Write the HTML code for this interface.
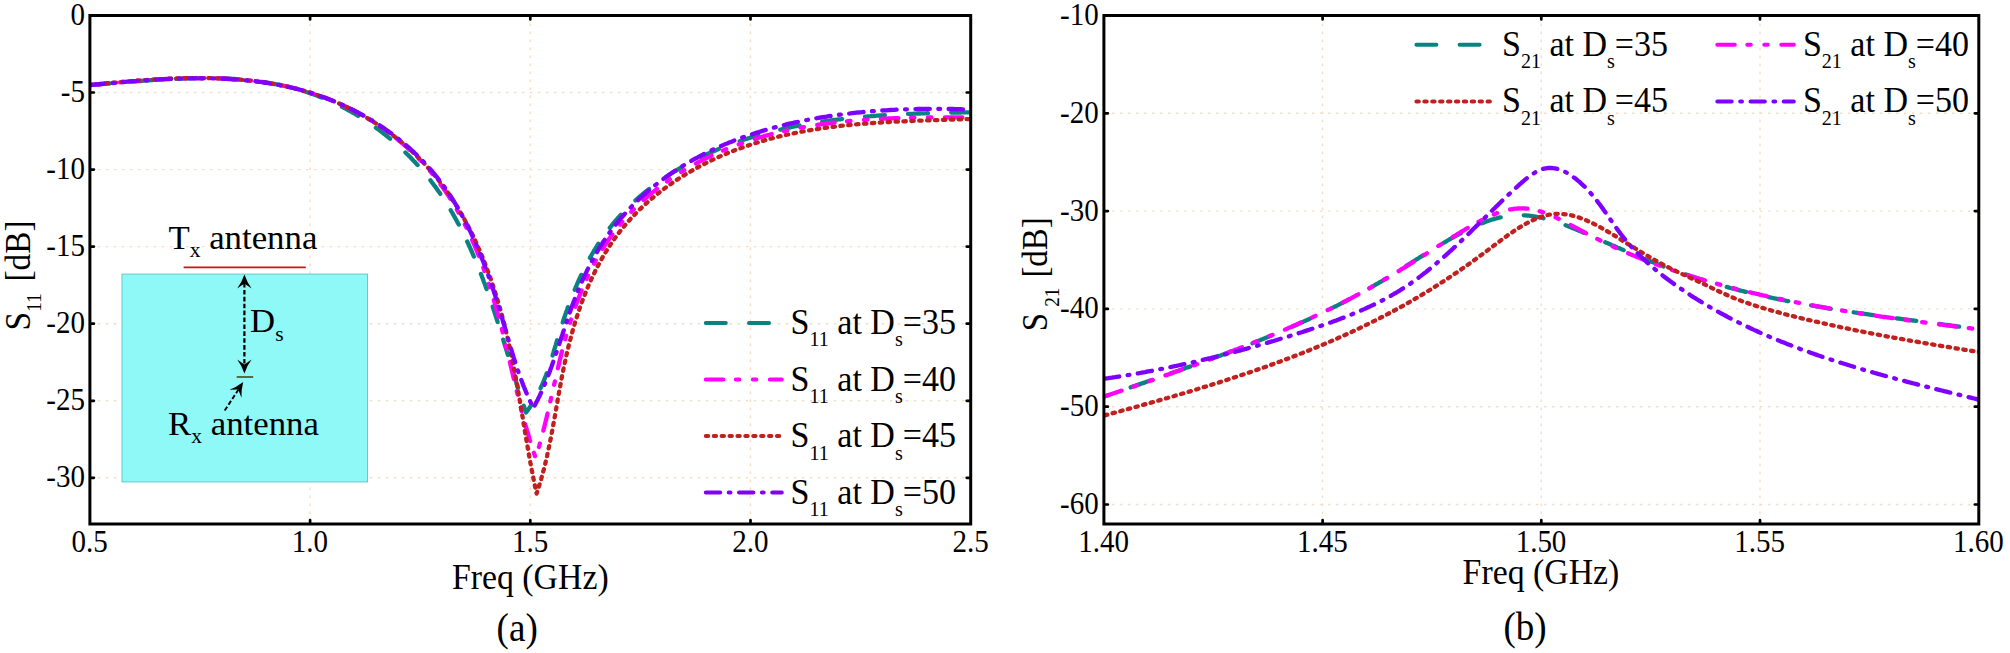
<!DOCTYPE html>
<html lang="en"><head><meta charset="utf-8"><title>S11 and S21 versus frequency</title>
<style>html,body{margin:0;padding:0;background:#fff}body{width:2010px;height:653px;overflow:hidden}svg{display:block}</style>
</head><body>
<svg width="2010" height="653" viewBox="0 0 2010 653" font-family='"Liberation Serif", "Times New Roman", serif' fill="#000">
<rect width="2010" height="653" fill="#fff"/>
<path d="M310.1,15.5 V524.0 M530.3,15.5 V524.0 M750.5,15.5 V524.0 M89.9,92.5 H970.7 M89.9,169.6 H970.7 M89.9,246.6 H970.7 M89.9,323.7 H970.7 M89.9,400.8 H970.7 M89.9,477.8 H970.7" stroke="#f5dcc5" stroke-width="1.4" stroke-dasharray="2.4 5.6" fill="none"/>
<clipPath id="cL"><rect x="89.9" y="15.5" width="880.8000000000001" height="508.5"/></clipPath>
<rect x="122" y="274.1" width="245.5" height="207.8" fill="#8ff9f8" stroke="#5fc9cc" stroke-width="1"/>
<g clip-path="url(#cL)" fill="none" stroke-width="4.3" stroke-linecap="round" stroke-linejoin="round">
<path d="M90.0,85.0 L91.5,84.9 L93.0,84.8 L94.5,84.7 L96.0,84.5 L97.5,84.4 L99.0,84.3 L100.4,84.2 L101.9,84.1 L103.4,83.9 L104.9,83.8 L106.4,83.7 L107.9,83.6 L109.4,83.5 L109.9,83.4 M133.0,81.5 L134.5,81.4 L136.0,81.3 L137.5,81.2 L138.9,81.1 L140.4,81.0 L141.9,80.9 L143.4,80.7 L144.9,80.6 L146.4,80.5 L147.9,80.4 L149.4,80.3 L150.9,80.2 L152.4,80.1 L152.9,80.1 M176.0,78.8 L177.5,78.7 L179.0,78.6 L180.5,78.6 L182.0,78.5 L183.5,78.5 L185.0,78.4 L186.5,78.4 L188.0,78.3 L189.5,78.3 L191.0,78.3 L192.5,78.2 L194.0,78.2 L195.5,78.2 L196.0,78.2 M219.2,78.3 L220.7,78.4 L222.2,78.4 L223.7,78.5 L225.2,78.5 L226.7,78.6 L228.2,78.7 L229.7,78.7 L231.2,78.8 L232.7,78.9 L234.2,79.0 L235.7,79.1 L237.2,79.2 L238.7,79.3 L239.2,79.4 M262.1,81.9 L263.6,82.1 L265.1,82.3 L266.6,82.5 L268.0,82.8 L269.5,83.0 L271.0,83.3 L272.4,83.5 L273.9,83.8 L275.3,84.1 L276.8,84.4 L278.2,84.7 L279.7,84.9 L281.2,85.3 L281.6,85.4 M303.6,91.1 L305.0,91.5 L306.4,92.0 L307.8,92.4 L309.2,92.9 L310.6,93.4 L311.9,93.9 L313.3,94.3 L314.7,94.8 L316.0,95.3 L317.4,95.8 L318.7,96.4 L320.1,96.9 L321.4,97.4 L321.9,97.6 M341.9,106.8 L343.2,107.4 L344.4,108.1 L345.6,108.7 L346.9,109.4 L348.1,110.1 L349.3,110.8 L350.6,111.4 L351.8,112.1 L353.0,112.8 L354.2,113.5 L355.4,114.2 L356.6,114.9 L357.8,115.7 L358.2,115.9 M375.9,127.7 L377.0,128.5 L378.1,129.3 L379.2,130.1 L380.3,130.9 L381.4,131.7 L382.4,132.6 L383.5,133.4 L384.6,134.2 L385.6,135.1 L386.7,135.9 L387.7,136.8 L388.8,137.6 L389.8,138.5 L390.1,138.7 M405.4,152.5 L406.4,153.4 L407.3,154.3 L408.3,155.2 L409.2,156.2 L410.1,157.1 L411.0,158.0 L411.9,159.0 L412.8,159.9 L413.7,160.9 L414.6,161.8 L415.5,162.8 L416.4,163.7 L417.3,164.7 L417.6,165.0 M430.4,180.2 L431.1,181.2 L431.9,182.3 L432.7,183.3 L433.4,184.3 L434.2,185.3 L435.0,186.3 L435.7,187.3 L436.4,188.4 L437.2,189.4 L437.9,190.4 L438.6,191.5 L439.4,192.5 L440.1,193.5 L440.3,193.9 M450.7,210.2 L451.3,211.3 L452.0,212.4 L452.6,213.4 L453.2,214.5 L453.8,215.6 L454.4,216.7 L455.0,217.7 L455.6,218.8 L456.2,219.9 L456.8,221.0 L457.4,222.1 L458.0,223.2 L458.6,224.3 L458.8,224.6 M467.2,241.6 L467.8,242.7 L468.3,243.8 L468.8,245.0 L469.3,246.1 L469.8,247.2 L470.3,248.3 L470.8,249.4 L471.3,250.5 L471.8,251.6 L472.3,252.8 L472.8,253.9 L473.2,255.0 L473.7,256.1 L473.9,256.5 M480.9,273.9 L481.4,275.0 L481.8,276.1 L482.2,277.3 L482.7,278.4 L483.1,279.5 L483.5,280.7 L483.9,281.8 L484.4,282.9 L484.8,284.1 L485.2,285.2 L485.6,286.4 L486.0,287.5 L486.4,288.6 L486.6,289.0 M492.7,306.6 L493.0,307.8 L493.4,308.9 L493.8,310.1 L494.2,311.2 L494.5,312.3 L494.9,313.5 L495.3,314.6 L495.7,315.8 L496.0,316.9 L496.4,318.1 L496.8,319.2 L497.1,320.4 L497.5,321.5 L497.6,321.9 M503.2,339.6 L503.5,340.8 L503.9,341.9 L504.3,343.1 L504.6,344.2 L505.0,345.4 L505.3,346.5 L505.7,347.7 L506.0,348.8 L506.4,349.9 L506.7,351.1 L507.1,352.2 L507.4,353.4 L507.8,354.5 L507.9,354.9 M513.3,372.7 L513.7,373.8 L514.0,375.0 L514.4,376.1 L514.7,377.3 L515.1,378.4 L515.4,379.6 L515.8,380.7 L516.1,381.9 L516.5,383.0 L516.8,384.2 L517.2,385.3 L517.6,386.5 L517.9,387.6 L518.0,388.0 M523.7,405.7 L524.1,406.8 L524.5,408.0 L524.9,409.1 L525.2,410.3 L525.6,411.4 L526.0,412.5 L526.8,411.4 L527.6,410.4 L528.3,409.4 L529.1,408.4 L529.8,407.3 L530.5,406.3 L531.2,405.3 L531.4,404.9 M540.6,388.2 L541.1,387.0 L541.6,385.9 L542.1,384.8 L542.6,383.7 L543.1,382.6 L543.5,381.4 L544.0,380.3 L544.5,379.2 L544.9,378.1 L545.3,376.9 L545.8,375.8 L546.2,374.7 L546.6,373.5 L546.7,373.2 M552.6,355.5 L552.9,354.3 L553.3,353.2 L553.6,352.0 L553.9,350.9 L554.3,349.7 L554.6,348.6 L555.0,347.4 L555.3,346.3 L555.7,345.1 L556.0,344.0 L556.3,342.8 L556.7,341.7 L557.0,340.5 L557.1,340.2 M562.7,322.4 L563.1,321.3 L563.4,320.1 L563.8,319.0 L564.2,317.8 L564.6,316.7 L565.0,315.6 L565.4,314.4 L565.8,313.3 L566.2,312.1 L566.6,311.0 L567.0,309.9 L567.4,308.7 L567.8,307.6 L567.9,307.2 M574.7,289.7 L575.2,288.6 L575.6,287.5 L576.1,286.4 L576.6,285.3 L577.1,284.1 L577.6,283.0 L578.0,281.9 L578.5,280.8 L579.0,279.7 L579.5,278.6 L580.1,277.5 L580.6,276.3 L581.1,275.2 L581.3,274.9 M589.9,257.9 L590.5,256.8 L591.1,255.8 L591.7,254.7 L592.4,253.6 L593.0,252.5 L593.6,251.5 L594.2,250.4 L594.9,249.3 L595.5,248.3 L596.2,247.2 L596.9,246.1 L597.5,245.1 L598.2,244.0 L598.4,243.7 M609.8,227.8 L610.6,226.8 L611.4,225.8 L612.2,224.8 L613.0,223.8 L613.8,222.8 L614.7,221.8 L615.5,220.8 L616.3,219.8 L617.2,218.9 L618.0,217.9 L618.9,216.9 L619.8,216.0 L620.7,215.0 L621.0,214.7 M635.4,200.4 L636.4,199.5 L637.4,198.7 L638.4,197.8 L639.4,196.9 L640.5,196.0 L641.5,195.2 L642.5,194.3 L643.5,193.5 L644.6,192.6 L645.6,191.8 L646.7,190.9 L647.7,190.1 L648.8,189.2 L649.1,189.0 M666.3,176.7 L667.5,175.9 L668.6,175.2 L669.8,174.4 L670.9,173.7 L672.1,173.0 L673.3,172.2 L674.5,171.5 L675.7,170.8 L676.9,170.1 L678.1,169.3 L679.3,168.6 L680.5,167.9 L681.7,167.2 L682.1,167.0 M701.4,156.9 L702.6,156.2 L703.9,155.6 L705.2,155.0 L706.5,154.4 L707.8,153.8 L709.1,153.3 L710.4,152.7 L711.7,152.1 L713.0,151.5 L714.3,150.9 L715.7,150.4 L717.0,149.8 L718.3,149.3 L718.8,149.1 M739.7,141.2 L741.0,140.7 L742.4,140.2 L743.8,139.8 L745.2,139.3 L746.6,138.9 L748.0,138.4 L749.4,138.0 L750.7,137.6 L752.1,137.1 L753.5,136.7 L754.9,136.3 L756.3,135.9 L757.8,135.5 L758.2,135.3 M780.2,129.6 L781.7,129.3 L783.1,128.9 L784.6,128.6 L786.0,128.3 L787.5,128.0 L788.9,127.6 L790.4,127.3 L791.8,127.0 L793.3,126.7 L794.7,126.4 L796.2,126.2 L797.6,125.9 L799.1,125.6 L799.6,125.5 M822.2,121.6 L823.7,121.4 L825.2,121.2 L826.7,121.0 L828.1,120.8 L829.6,120.6 L831.1,120.4 L832.6,120.2 L834.1,120.0 L835.5,119.8 L837.0,119.6 L838.5,119.4 L840.0,119.3 L841.5,119.1 L842.0,119.0 M865.0,116.7 L866.5,116.6 L867.9,116.4 L869.4,116.3 L870.9,116.2 L872.4,116.1 L873.9,116.0 L875.4,115.9 L876.9,115.7 L878.4,115.6 L879.9,115.5 L881.4,115.4 L882.9,115.3 L884.4,115.2 L884.9,115.2 M908.0,113.9 L909.5,113.9 L911.0,113.8 L912.5,113.8 L914.0,113.7 L915.5,113.6 L917.0,113.6 L918.5,113.5 L920.0,113.5 L921.5,113.4 L923.0,113.4 L924.5,113.3 L926.0,113.3 L927.5,113.2 L928.0,113.2 M951.2,112.6 L952.7,112.6 L954.2,112.6 L955.7,112.5 L957.2,112.5 L958.7,112.5 L960.2,112.5 L961.7,112.4 L963.2,112.4 L964.7,112.4 L966.2,112.4 L967.7,112.3 L969.2,112.3 L970.0,112.3" stroke="#0a8282"/>
<path d="M90.0,85.0 L92.2,84.8 L94.4,84.6 L96.5,84.4 L98.7,84.2 L100.9,84.0 L103.1,83.8 L105.3,83.6 L107.5,83.4 L109.7,83.2 L112.0,83.0 L114.2,82.8 L116.4,82.6 L118.6,82.4 L120.9,82.2 L123.1,82.0 L125.3,81.8 L127.6,81.6 L129.8,81.4 L132.1,81.2 L134.3,81.1 L136.6,80.9 L138.8,80.7 L141.1,80.6 L143.3,80.4 L145.6,80.2 L147.9,80.1 L150.1,79.9 L152.4,79.8 L154.7,79.6 L156.9,79.5 L159.2,79.4 L161.5,79.2 L163.8,79.1 L166.1,79.0 L168.3,78.9 L170.6,78.8 L172.9,78.7 L175.2,78.6 L177.5,78.5 L179.8,78.4 L182.1,78.4 L184.3,78.3 L186.6,78.3 L188.9,78.2 L191.2,78.2 L193.5,78.1 L195.8,78.1 L198.1,78.1 L200.4,78.1 L202.7,78.1 L205.0,78.1 L207.2,78.1 L209.5,78.2 L211.8,78.2 L214.1,78.3 L216.4,78.3 L218.7,78.4 L221.0,78.5 L223.2,78.6 L225.5,78.7 L227.8,78.8 L230.1,78.9 L232.4,79.1 L234.6,79.2 L236.9,79.4 L239.2,79.5 L241.5,79.7 L243.7,79.9 L246.0,80.1 L248.2,80.4 L250.5,80.6 L252.8,80.8 L255.0,81.1 L257.3,81.4 L259.5,81.7 L261.8,82.0 L264.0,82.3 L266.3,82.6 L268.5,83.0 L270.7,83.3 L273.0,83.7 L275.2,84.1 L277.4,84.5 L279.6,85.0 L281.8,85.4 L284.1,85.8 L286.3,86.3 L288.5,86.8 L290.7,87.3 L292.9,87.8 L295.0,88.4 L297.2,88.9 L299.4,89.5 L301.6,90.1 L303.7,90.7 L305.9,91.3 L308.1,92.0 L310.2,92.6 L312.4,93.3 L314.5,94.0 L316.7,94.7 L318.8,95.5 L320.9,96.2 L323.0,97.0 L325.1,97.8 L327.2,98.6 L329.3,99.4 L331.4,100.3 L333.5,101.1 L335.6,102.0 L337.7,102.9 L339.7,103.8 L341.8,104.8 L343.8,105.7 L345.9,106.7 L347.9,107.7 L349.9,108.7 L351.9,109.7 L353.9,110.7 L355.9,111.8 L357.9,112.8 L359.9,113.9 L361.9,115.0 L363.8,116.2 L365.8,117.3 L367.7,118.5 L369.6,119.6 L371.6,120.8 L373.5,122.0 L375.4,123.2 L377.2,124.5 L379.1,125.7 L381.0,127.0 L382.8,128.3 L384.7,129.6 L386.5,130.9 L388.3,132.2 L390.1,133.5 L391.9,134.9 L393.7,136.3 L395.4,137.7 L397.2,139.1 L398.9,140.5 L400.7,141.9 L402.4,143.4 L404.1,144.8 L405.8,146.3 L407.4,147.8 L409.1,149.3 L410.8,150.8 L412.4,152.4 L414.0,153.9 L415.6,155.5 L417.2,157.1 L418.8,158.7 L420.3,160.3 L421.9,161.9 L423.4,163.5 L424.9,165.2 L426.4,166.9 L427.9,168.5 L429.3,170.2 L430.8,171.9 L432.2,173.6 L433.6,175.4 L435.0,177.1 L436.4,178.9 L437.8,180.6 L439.1,182.4 L440.4,184.2 L441.7,186.0 L443.0,187.8 L444.3,189.7 L445.6,191.5 L446.8,193.4 L448.1,195.2 L449.3,197.1 L450.5,199.0 L451.7,200.9 L452.9,202.8 L454.0,204.7 L455.2,206.6 L456.3,208.6 L457.4,210.5 L458.5,212.5 L459.6,214.4 L460.7,216.4 L461.7,218.4 L462.8,220.4 L463.8,222.4 L464.8,224.4 L465.8,226.4 L466.8,228.5 L467.8,230.5 L468.8,232.5 L469.7,234.6 L470.7,236.6 L471.6,238.7 L472.5,240.8 L473.4,242.9 L474.3,245.0 L475.2,247.0 L476.1,249.1 L477.0,251.3 L477.8,253.4 L478.7,255.5 L479.5,257.6 L480.3,259.7 L481.1,261.9 L481.9,264.0 L482.7,266.2 L483.5,268.3 L484.3,270.5 L485.0,272.6 L485.8,274.8 L486.5,276.9 L487.2,279.1 L488.0,281.3 L488.7,283.5 L489.4,285.6 L490.1,287.8 L490.8,290.0 L491.5,292.2 L492.1,294.4 L492.8,296.6 L493.5,298.8 L494.1,301.0 L494.8,303.2 L495.4,305.4 L496.0,307.6 L496.6,309.8 L497.3,312.0 L497.9,314.2 L498.5,316.4 L499.1,318.6 L499.7,320.8 L500.2,323.0 L500.8,325.2 L501.4,327.4 L502.0,329.6 L502.5,331.8 L503.1,334.0 L503.6,336.2 L504.2,338.4 L504.7,340.6 L505.3,342.8 L505.8,345.0 L506.3,347.2 L506.9,349.4 L507.4,351.6 L507.9,353.8 L508.5,356.0 L509.0,358.2 L509.5,360.4 L510.0,362.6 L510.5,364.8 L511.0,367.0 L511.6,369.2 L512.1,371.4 L512.6,373.6 L513.1,375.8 L513.6,377.9 L514.2,380.1 L514.7,382.3 L515.2,384.5 L515.7,386.7 L516.2,388.9 L516.8,391.1 L517.3,393.2 L517.8,395.4 L518.4,397.6 L518.9,399.8 L519.4,402.0 L520.0,404.1 L520.5,406.3 L521.1,408.5 L521.6,410.7 L522.2,412.8 L522.8,415.0 L523.3,417.2 L523.9,419.3 L524.5,421.5 L525.1,423.7 L525.7,425.8 L526.3,428.0 L526.9,430.1 L527.5,432.3 L528.2,434.4 L528.8,436.6 L529.4,438.7 L530.1,440.9 L530.7,443.0 L531.4,445.2 L532.1,447.3 L532.8,449.5 L533.5,451.6 L534.2,453.7 L534.9,455.9 L535.6,458.0 L536.2,456.0 L536.8,454.1 L537.4,452.1 L538.0,450.1 L538.6,448.1 L539.2,446.1 L539.7,444.1 L540.3,442.1 L540.9,440.1 L541.4,438.1 L541.9,436.1 L542.5,434.1 L543.0,432.1 L543.5,430.0 L544.0,428.0 L544.5,426.0 L545.0,424.0 L545.5,421.9 L546.0,419.9 L546.5,417.9 L547.0,415.8 L547.5,413.8 L548.0,411.7 L548.4,409.7 L548.9,407.7 L549.4,405.6 L549.8,403.6 L550.3,401.5 L550.8,399.4 L551.2,397.4 L551.7,395.3 L552.2,393.3 L552.6,391.2 L553.1,389.2 L553.6,387.1 L554.0,385.0 L554.5,383.0 L555.0,380.9 L555.4,378.8 L555.9,376.8 L556.4,374.7 L556.8,372.7 L557.3,370.6 L557.8,368.5 L558.3,366.5 L558.8,364.4 L559.3,362.3 L559.8,360.3 L560.3,358.2 L560.8,356.1 L561.3,354.1 L561.8,352.0 L562.3,350.0 L562.9,347.9 L563.4,345.8 L563.9,343.8 L564.5,341.7 L565.1,339.7 L565.6,337.6 L566.2,335.6 L566.8,333.5 L567.4,331.5 L568.0,329.4 L568.6,327.4 L569.2,325.4 L569.8,323.3 L570.5,321.3 L571.1,319.2 L571.8,317.2 L572.4,315.2 L573.1,313.2 L573.8,311.2 L574.5,309.1 L575.2,307.1 L575.9,305.1 L576.7,303.1 L577.4,301.1 L578.2,299.1 L578.9,297.2 L579.7,295.2 L580.5,293.2 L581.3,291.2 L582.1,289.3 L582.9,287.3 L583.7,285.4 L584.6,283.4 L585.4,281.5 L586.3,279.6 L587.2,277.7 L588.1,275.7 L589.0,273.8 L589.9,271.9 L590.8,270.1 L591.8,268.2 L592.7,266.3 L593.7,264.4 L594.7,262.6 L595.7,260.7 L596.7,258.9 L597.7,257.1 L598.8,255.3 L599.8,253.5 L600.9,251.7 L602.0,249.9 L603.1,248.1 L604.2,246.3 L605.3,244.6 L606.5,242.9 L607.6,241.1 L608.8,239.4 L610.0,237.7 L611.2,236.0 L612.4,234.3 L613.6,232.6 L614.9,231.0 L616.2,229.3 L617.4,227.7 L618.7,226.1 L620.1,224.5 L621.4,222.9 L622.7,221.3 L624.1,219.8 L625.5,218.2 L626.9,216.7 L628.3,215.1 L629.7,213.6 L631.1,212.1 L632.6,210.6 L634.0,209.1 L635.5,207.7 L637.0,206.2 L638.5,204.8 L640.0,203.4 L641.5,201.9 L643.1,200.5 L644.6,199.1 L646.2,197.8 L647.8,196.4 L649.3,195.1 L650.9,193.7 L652.6,192.4 L654.2,191.1 L655.8,189.8 L657.5,188.5 L659.1,187.2 L660.8,185.9 L662.5,184.7 L664.2,183.5 L665.9,182.2 L667.6,181.0 L669.3,179.8 L671.0,178.6 L672.8,177.5 L674.5,176.3 L676.3,175.2 L678.1,174.0 L679.9,172.9 L681.6,171.8 L683.4,170.7 L685.2,169.6 L687.1,168.5 L688.9,167.5 L690.7,166.4 L692.6,165.4 L694.4,164.4 L696.3,163.4 L698.1,162.4 L700.0,161.4 L701.9,160.4 L703.8,159.4 L705.7,158.5 L707.6,157.6 L709.5,156.6 L711.4,155.7 L713.3,154.8 L715.2,153.9 L717.2,153.1 L719.1,152.2 L721.1,151.4 L723.0,150.5 L725.0,149.7 L726.9,148.9 L728.9,148.1 L730.9,147.3 L732.8,146.6 L734.8,145.8 L736.8,145.0 L738.8,144.3 L740.8,143.6 L742.8,142.9 L744.8,142.2 L746.8,141.5 L748.8,140.8 L750.8,140.2 L752.8,139.5 L754.8,138.9 L756.8,138.3 L758.9,137.7 L760.9,137.1 L762.9,136.5 L765.0,135.9 L767.0,135.3 L769.0,134.8 L771.1,134.2 L773.1,133.7 L775.2,133.2 L777.2,132.7 L779.3,132.2 L781.3,131.7 L783.4,131.2 L785.4,130.8 L787.5,130.3 L789.6,129.9 L791.6,129.4 L793.7,129.0 L795.8,128.6 L797.8,128.2 L799.9,127.8 L802.0,127.4 L804.1,127.1 L806.1,126.7 L808.2,126.3 L810.3,126.0 L812.4,125.6 L814.5,125.3 L816.6,125.0 L818.6,124.7 L820.7,124.4 L822.8,124.1 L824.9,123.8 L827.0,123.5 L829.1,123.3 L831.2,123.0 L833.3,122.7 L835.4,122.5 L837.5,122.3 L839.6,122.0 L841.7,121.8 L843.8,121.6 L845.9,121.4 L848.0,121.2 L850.1,121.0 L852.2,120.8 L854.4,120.6 L856.5,120.4 L858.6,120.3 L860.7,120.1 L862.8,119.9 L864.9,119.8 L867.0,119.6 L869.1,119.5 L871.2,119.4 L873.4,119.2 L875.5,119.1 L877.6,119.0 L879.7,118.9 L881.8,118.8 L883.9,118.7 L886.0,118.6 L888.2,118.5 L890.3,118.4 L892.4,118.3 L894.5,118.2 L896.6,118.2 L898.7,118.1 L900.8,118.0 L902.9,118.0 L905.1,117.9 L907.2,117.9 L909.3,117.8 L911.4,117.8 L913.5,117.7 L915.6,117.7 L917.7,117.6 L919.8,117.6 L921.9,117.6 L924.0,117.6 L926.1,117.5 L928.2,117.5 L930.3,117.5 L932.4,117.5 L934.5,117.4 L936.6,117.4 L938.7,117.4 L940.8,117.4 L942.9,117.4 L945.0,117.4 L947.1,117.4 L949.2,117.4 L951.3,117.4 L953.4,117.4 L955.5,117.4 L957.5,117.4 L959.6,117.4 L961.7,117.4 L963.8,117.4 L965.9,117.4 L967.9,117.4 L970.0,117.4" stroke="#ff00ff" stroke-dasharray="17.5 12.5 3.5 13.5 3.5 13.5" stroke-dashoffset="0"/>
<path d="M90.0,85.0 L92.3,84.8 L94.6,84.6 L96.9,84.3 L99.2,84.1 L101.5,83.9 L103.8,83.7 L106.1,83.4 L108.4,83.2 L110.8,83.0 L113.1,82.8 L115.4,82.6 L117.8,82.4 L120.1,82.2 L122.5,81.9 L124.8,81.7 L127.2,81.5 L129.5,81.3 L131.9,81.2 L134.3,81.0 L136.7,80.8 L139.0,80.6 L141.4,80.4 L143.8,80.2 L146.2,80.1 L148.6,79.9 L151.0,79.8 L153.4,79.6 L155.7,79.5 L158.1,79.3 L160.5,79.2 L162.9,79.1 L165.4,78.9 L167.8,78.8 L170.2,78.7 L172.6,78.6 L175.0,78.5 L177.4,78.4 L179.8,78.4 L182.2,78.3 L184.6,78.2 L187.1,78.2 L189.5,78.1 L191.9,78.1 L194.3,78.1 L196.7,78.1 L199.1,78.1 L201.6,78.1 L204.0,78.1 L206.4,78.1 L208.8,78.1 L211.2,78.2 L213.6,78.2 L216.0,78.3 L218.5,78.4 L220.9,78.5 L223.3,78.6 L225.7,78.7 L228.1,78.8 L230.5,79.0 L232.9,79.1 L235.3,79.3 L237.7,79.5 L240.1,79.7 L242.5,79.9 L244.9,80.1 L247.3,80.3 L249.7,80.6 L252.0,80.8 L254.4,81.1 L256.8,81.4 L259.2,81.7 L261.5,82.0 L263.9,82.3 L266.3,82.7 L268.6,83.1 L271.0,83.5 L273.3,83.9 L275.7,84.3 L278.0,84.7 L280.4,85.2 L282.7,85.6 L285.0,86.1 L287.3,86.6 L289.7,87.1 L292.0,87.7 L294.3,88.2 L296.6,88.8 L298.9,89.4 L301.2,90.0 L303.4,90.7 L305.7,91.3 L308.0,92.0 L310.3,92.7 L312.5,93.4 L314.8,94.1 L317.0,94.9 L319.3,95.7 L321.5,96.4 L323.7,97.3 L325.9,98.1 L328.1,98.9 L330.3,99.8 L332.5,100.7 L334.7,101.6 L336.9,102.5 L339.1,103.5 L341.2,104.5 L343.4,105.5 L345.5,106.5 L347.6,107.5 L349.8,108.5 L351.9,109.6 L354.0,110.7 L356.1,111.8 L358.2,112.9 L360.2,114.0 L362.3,115.2 L364.4,116.3 L366.4,117.5 L368.4,118.7 L370.5,120.0 L372.5,121.2 L374.5,122.5 L376.5,123.8 L378.4,125.1 L380.4,126.4 L382.4,127.7 L384.3,129.0 L386.2,130.4 L388.2,131.8 L390.1,133.2 L391.9,134.6 L393.8,136.0 L395.7,137.5 L397.5,139.0 L399.4,140.4 L401.2,141.9 L403.0,143.5 L404.8,145.0 L406.6,146.5 L408.4,148.1 L410.1,149.7 L411.9,151.3 L413.6,152.9 L415.3,154.5 L417.0,156.2 L418.7,157.8 L420.3,159.5 L422.0,161.2 L423.6,162.9 L425.2,164.6 L426.8,166.4 L428.4,168.1 L430.0,169.9 L431.5,171.7 L433.1,173.4 L434.6,175.3 L436.1,177.1 L437.6,178.9 L439.1,180.8 L440.5,182.6 L441.9,184.5 L443.4,186.4 L444.8,188.3 L446.1,190.2 L447.5,192.2 L448.9,194.1 L450.2,196.1 L451.5,198.0 L452.8,200.0 L454.1,202.0 L455.4,204.0 L456.6,206.0 L457.9,208.1 L459.1,210.1 L460.3,212.2 L461.5,214.2 L462.7,216.3 L463.9,218.4 L465.0,220.5 L466.2,222.6 L467.3,224.7 L468.4,226.8 L469.5,228.9 L470.6,231.0 L471.6,233.2 L472.7,235.3 L473.7,237.5 L474.8,239.7 L475.8,241.8 L476.8,244.0 L477.8,246.2 L478.7,248.4 L479.7,250.6 L480.6,252.8 L481.6,255.0 L482.5,257.2 L483.4,259.5 L484.3,261.7 L485.2,263.9 L486.0,266.2 L486.9,268.4 L487.7,270.7 L488.6,272.9 L489.4,275.2 L490.2,277.5 L491.0,279.7 L491.8,282.0 L492.5,284.3 L493.3,286.6 L494.0,288.8 L494.8,291.1 L495.5,293.4 L496.2,295.7 L496.9,298.0 L497.6,300.3 L498.3,302.6 L499.0,304.9 L499.6,307.2 L500.3,309.5 L500.9,311.8 L501.6,314.1 L502.2,316.4 L502.8,318.7 L503.4,321.0 L504.0,323.3 L504.6,325.6 L505.2,328.0 L505.7,330.3 L506.3,332.6 L506.8,334.9 L507.4,337.2 L507.9,339.5 L508.5,341.9 L509.0,344.2 L509.5,346.5 L510.0,348.8 L510.5,351.2 L511.0,353.5 L511.5,355.8 L512.0,358.2 L512.4,360.5 L512.9,362.8 L513.3,365.1 L513.8,367.5 L514.3,369.8 L514.7,372.1 L515.1,374.5 L515.6,376.8 L516.0,379.1 L516.4,381.5 L516.8,383.8 L517.3,386.1 L517.7,388.5 L518.1,390.8 L518.5,393.1 L518.9,395.5 L519.3,397.8 L519.7,400.1 L520.1,402.5 L520.5,404.8 L520.9,407.1 L521.3,409.5 L521.7,411.8 L522.1,414.2 L522.5,416.5 L522.9,418.8 L523.2,421.2 L523.6,423.5 L524.0,425.8 L524.4,428.2 L524.8,430.5 L525.2,432.9 L525.6,435.2 L526.0,437.5 L526.4,439.9 L526.8,442.2 L527.2,444.5 L527.6,446.9 L528.0,449.2 L528.4,451.6 L528.8,453.9 L529.2,456.2 L529.7,458.6 L530.1,460.9 L530.5,463.2 L531.0,465.6 L531.4,467.9 L531.8,470.2 L532.3,472.6 L532.7,474.9 L533.2,477.3 L533.7,479.6 L534.1,481.9 L534.6,484.3 L535.1,486.6 L535.6,488.9 L536.1,491.3 L536.6,493.6 L537.3,491.5 L538.0,489.5 L538.6,487.4 L539.3,485.3 L539.9,483.3 L540.5,481.2 L541.2,479.1 L541.7,477.0 L542.3,474.9 L542.9,472.8 L543.5,470.7 L544.0,468.6 L544.5,466.5 L545.1,464.4 L545.6,462.3 L546.1,460.2 L546.6,458.0 L547.1,455.9 L547.5,453.8 L548.0,451.7 L548.5,449.5 L548.9,447.4 L549.4,445.2 L549.8,443.1 L550.2,440.9 L550.7,438.8 L551.1,436.6 L551.5,434.5 L551.9,432.3 L552.3,430.2 L552.7,428.0 L553.1,425.8 L553.5,423.7 L553.9,421.5 L554.3,419.3 L554.7,417.2 L555.1,415.0 L555.4,412.8 L555.8,410.6 L556.2,408.5 L556.6,406.3 L557.0,404.1 L557.4,401.9 L557.7,399.8 L558.1,397.6 L558.5,395.4 L558.9,393.2 L559.3,391.0 L559.7,388.8 L560.1,386.7 L560.5,384.5 L560.9,382.3 L561.3,380.1 L561.7,377.9 L562.1,375.7 L562.6,373.6 L563.0,371.4 L563.4,369.2 L563.9,367.0 L564.3,364.8 L564.8,362.6 L565.3,360.5 L565.7,358.3 L566.2,356.1 L566.7,353.9 L567.2,351.8 L567.7,349.6 L568.3,347.4 L568.8,345.2 L569.3,343.1 L569.9,340.9 L570.5,338.7 L571.0,336.6 L571.6,334.4 L572.2,332.3 L572.8,330.1 L573.4,328.0 L574.1,325.8 L574.7,323.7 L575.3,321.6 L576.0,319.4 L576.7,317.3 L577.4,315.2 L578.1,313.1 L578.8,311.0 L579.5,308.9 L580.2,306.8 L581.0,304.7 L581.7,302.6 L582.5,300.5 L583.3,298.4 L584.1,296.4 L584.9,294.3 L585.7,292.3 L586.5,290.2 L587.4,288.2 L588.2,286.2 L589.1,284.1 L590.0,282.1 L590.9,280.1 L591.8,278.1 L592.8,276.1 L593.7,274.2 L594.7,272.2 L595.6,270.2 L596.6,268.3 L597.6,266.3 L598.7,264.4 L599.7,262.5 L600.7,260.6 L601.8,258.7 L602.9,256.8 L604.0,254.9 L605.1,253.1 L606.3,251.2 L607.4,249.4 L608.6,247.5 L609.7,245.7 L610.9,243.9 L612.2,242.1 L613.4,240.3 L614.6,238.6 L615.9,236.8 L617.2,235.1 L618.5,233.3 L619.8,231.6 L621.2,229.9 L622.5,228.2 L623.9,226.6 L625.3,224.9 L626.7,223.3 L628.1,221.6 L629.6,220.0 L631.0,218.4 L632.5,216.8 L634.0,215.3 L635.5,213.7 L637.0,212.2 L638.6,210.6 L640.1,209.1 L641.7,207.6 L643.3,206.1 L644.9,204.6 L646.5,203.2 L648.1,201.7 L649.8,200.3 L651.4,198.9 L653.1,197.5 L654.8,196.1 L656.5,194.7 L658.2,193.3 L659.9,192.0 L661.6,190.6 L663.4,189.3 L665.1,188.0 L666.9,186.7 L668.7,185.4 L670.5,184.2 L672.3,182.9 L674.1,181.7 L676.0,180.5 L677.8,179.2 L679.6,178.0 L681.5,176.9 L683.4,175.7 L685.3,174.5 L687.2,173.4 L689.1,172.3 L691.0,171.2 L692.9,170.1 L694.8,169.0 L696.8,167.9 L698.7,166.8 L700.7,165.8 L702.6,164.8 L704.6,163.8 L706.6,162.8 L708.6,161.8 L710.6,160.8 L712.6,159.8 L714.6,158.9 L716.6,158.0 L718.6,157.0 L720.7,156.1 L722.7,155.2 L724.7,154.4 L726.8,153.5 L728.8,152.7 L730.9,151.8 L733.0,151.0 L735.0,150.2 L737.1,149.4 L739.2,148.6 L741.3,147.9 L743.4,147.1 L745.5,146.4 L747.6,145.7 L749.7,145.0 L751.8,144.3 L753.9,143.6 L756.0,142.9 L758.1,142.3 L760.2,141.6 L762.3,141.0 L764.5,140.4 L766.6,139.8 L768.7,139.2 L770.8,138.6 L773.0,138.1 L775.1,137.5 L777.3,137.0 L779.4,136.4 L781.6,135.9 L783.7,135.4 L785.9,134.9 L788.0,134.5 L790.2,134.0 L792.3,133.5 L794.5,133.1 L796.7,132.7 L798.8,132.2 L801.0,131.8 L803.2,131.4 L805.3,131.0 L807.5,130.6 L809.7,130.3 L811.9,129.9 L814.0,129.5 L816.2,129.2 L818.4,128.9 L820.6,128.5 L822.8,128.2 L825.0,127.9 L827.2,127.6 L829.4,127.3 L831.5,127.0 L833.7,126.8 L835.9,126.5 L838.1,126.2 L840.3,126.0 L842.5,125.7 L844.7,125.5 L846.9,125.3 L849.1,125.0 L851.3,124.8 L853.5,124.6 L855.7,124.4 L858.0,124.2 L860.2,124.0 L862.4,123.8 L864.6,123.7 L866.8,123.5 L869.0,123.3 L871.2,123.2 L873.4,123.0 L875.6,122.8 L877.8,122.7 L880.0,122.6 L882.2,122.4 L884.4,122.3 L886.7,122.2 L888.9,122.0 L891.1,121.9 L893.3,121.8 L895.5,121.7 L897.7,121.6 L899.9,121.5 L902.1,121.4 L904.3,121.3 L906.5,121.2 L908.7,121.1 L910.9,121.0 L913.1,120.9 L915.3,120.8 L917.5,120.7 L919.7,120.7 L921.9,120.6 L924.1,120.5 L926.3,120.4 L928.5,120.4 L930.7,120.3 L932.9,120.2 L935.1,120.1 L937.3,120.1 L939.5,120.0 L941.7,119.9 L943.9,119.9 L946.1,119.8 L948.3,119.7 L950.4,119.6 L952.6,119.6 L954.8,119.5 L957.0,119.4 L959.2,119.4 L961.3,119.3 L963.5,119.2 L965.7,119.2 L967.8,119.1 L970.0,119.0" stroke="#c0201e" stroke-dasharray="2.4 5.5" stroke-dashoffset="0"/>
<path d="M90.0,85.0 L92.1,84.8 L94.1,84.6 L96.2,84.4 L98.2,84.3 L100.3,84.1 L102.3,83.9 L104.4,83.7 L106.5,83.5 L108.6,83.3 L110.6,83.2 L112.7,83.0 L114.8,82.8 L116.9,82.6 L118.9,82.4 L121.0,82.3 L123.1,82.1 L125.2,81.9 L127.3,81.7 L129.4,81.6 L131.5,81.4 L133.6,81.2 L135.7,81.1 L137.8,80.9 L139.9,80.8 L142.0,80.6 L144.1,80.5 L146.2,80.3 L148.3,80.2 L150.4,80.1 L152.5,79.9 L154.6,79.8 L156.7,79.7 L158.9,79.5 L161.0,79.4 L163.1,79.3 L165.2,79.2 L167.3,79.1 L169.4,79.0 L171.5,78.9 L173.7,78.8 L175.8,78.8 L177.9,78.7 L180.0,78.6 L182.1,78.5 L184.2,78.5 L186.4,78.4 L188.5,78.4 L190.6,78.4 L192.7,78.3 L194.8,78.3 L197.0,78.3 L199.1,78.3 L201.2,78.3 L203.3,78.3 L205.4,78.3 L207.5,78.3 L209.6,78.4 L211.8,78.4 L213.9,78.4 L216.0,78.5 L218.1,78.6 L220.2,78.6 L222.3,78.7 L224.4,78.8 L226.5,78.9 L228.6,79.0 L230.7,79.1 L232.8,79.3 L234.9,79.4 L237.1,79.6 L239.1,79.7 L241.2,79.9 L243.3,80.1 L245.4,80.3 L247.5,80.5 L249.6,80.7 L251.7,80.9 L253.8,81.1 L255.9,81.4 L258.0,81.6 L260.0,81.9 L262.1,82.2 L264.2,82.5 L266.3,82.8 L268.3,83.1 L270.4,83.5 L272.5,83.8 L274.5,84.2 L276.6,84.5 L278.7,84.9 L280.7,85.3 L282.8,85.7 L284.8,86.1 L286.9,86.6 L288.9,87.0 L290.9,87.5 L293.0,88.0 L295.0,88.5 L297.0,89.0 L299.1,89.5 L301.1,90.0 L303.1,90.6 L305.1,91.2 L307.1,91.8 L309.1,92.4 L311.1,93.0 L313.1,93.6 L315.1,94.2 L317.1,94.9 L319.1,95.6 L321.1,96.3 L323.1,97.0 L325.0,97.7 L327.0,98.5 L329.0,99.2 L330.9,100.0 L332.9,100.8 L334.8,101.6 L336.8,102.4 L338.7,103.2 L340.6,104.1 L342.6,104.9 L344.5,105.8 L346.4,106.7 L348.3,107.6 L350.2,108.5 L352.1,109.5 L354.0,110.4 L355.8,111.4 L357.7,112.3 L359.6,113.3 L361.4,114.3 L363.3,115.4 L365.1,116.4 L366.9,117.5 L368.7,118.5 L370.6,119.6 L372.4,120.7 L374.1,121.8 L375.9,122.9 L377.7,124.1 L379.5,125.2 L381.2,126.4 L383.0,127.5 L384.7,128.7 L386.4,129.9 L388.2,131.2 L389.9,132.4 L391.6,133.6 L393.2,134.9 L394.9,136.2 L396.6,137.4 L398.2,138.7 L399.9,140.1 L401.5,141.4 L403.1,142.7 L404.7,144.1 L406.3,145.4 L407.9,146.8 L409.5,148.2 L411.0,149.6 L412.6,151.0 L414.1,152.4 L415.6,153.9 L417.1,155.3 L418.6,156.8 L420.1,158.3 L421.5,159.8 L423.0,161.3 L424.4,162.8 L425.9,164.3 L427.3,165.8 L428.7,167.4 L430.0,168.9 L431.4,170.5 L432.8,172.1 L434.1,173.7 L435.4,175.3 L436.7,176.9 L438.0,178.6 L439.3,180.2 L440.6,181.9 L441.8,183.5 L443.0,185.2 L444.3,186.9 L445.5,188.6 L446.7,190.3 L447.8,192.0 L449.0,193.8 L450.1,195.5 L451.3,197.3 L452.4,199.0 L453.5,200.8 L454.6,202.6 L455.7,204.4 L456.8,206.1 L457.8,208.0 L458.9,209.8 L459.9,211.6 L460.9,213.4 L462.0,215.3 L463.0,217.1 L463.9,219.0 L464.9,220.8 L465.9,222.7 L466.8,224.6 L467.8,226.4 L468.7,228.3 L469.6,230.2 L470.6,232.1 L471.5,234.0 L472.3,235.9 L473.2,237.9 L474.1,239.8 L475.0,241.7 L475.8,243.7 L476.7,245.6 L477.5,247.6 L478.3,249.5 L479.1,251.5 L479.9,253.4 L480.7,255.4 L481.5,257.4 L482.3,259.3 L483.1,261.3 L483.8,263.3 L484.6,265.3 L485.3,267.3 L486.1,269.3 L486.8,271.3 L487.5,273.3 L488.3,275.3 L489.0,277.3 L489.7,279.3 L490.4,281.3 L491.1,283.3 L491.7,285.3 L492.4,287.3 L493.1,289.3 L493.8,291.4 L494.4,293.4 L495.1,295.4 L495.7,297.4 L496.4,299.4 L497.0,301.5 L497.6,303.5 L498.3,305.5 L498.9,307.5 L499.5,309.5 L500.1,311.6 L500.7,313.6 L501.3,315.6 L501.9,317.6 L502.5,319.6 L503.1,321.7 L503.7,323.7 L504.3,325.7 L504.9,327.7 L505.4,329.7 L506.0,331.7 L506.6,333.7 L507.2,335.7 L507.8,337.7 L508.4,339.8 L508.9,341.8 L509.5,343.8 L510.1,345.7 L510.7,347.7 L511.3,349.7 L511.9,351.7 L512.5,353.7 L513.1,355.7 L513.7,357.7 L514.4,359.7 L515.0,361.6 L515.6,363.6 L516.3,365.6 L516.9,367.6 L517.6,369.5 L518.3,371.5 L518.9,373.4 L519.6,375.4 L520.3,377.3 L521.0,379.3 L521.8,381.2 L522.5,383.2 L523.2,385.1 L524.0,387.0 L524.8,389.0 L525.6,390.9 L526.4,392.8 L527.2,394.7 L528.0,396.6 L528.9,398.5 L529.7,400.4 L530.6,402.3 L531.5,404.2 L532.5,406.1 L533.4,408.0 L534.3,406.3 L535.2,404.6 L536.1,402.8 L537.0,401.1 L537.9,399.4 L538.7,397.6 L539.6,395.9 L540.4,394.1 L541.2,392.3 L542.0,390.6 L542.8,388.8 L543.6,387.0 L544.3,385.2 L545.1,383.4 L545.8,381.6 L546.5,379.8 L547.3,378.0 L548.0,376.1 L548.7,374.3 L549.4,372.5 L550.1,370.6 L550.7,368.8 L551.4,367.0 L552.1,365.1 L552.7,363.3 L553.4,361.4 L554.0,359.6 L554.7,357.7 L555.3,355.8 L555.9,354.0 L556.6,352.1 L557.2,350.2 L557.8,348.4 L558.4,346.5 L559.1,344.6 L559.7,342.7 L560.3,340.9 L560.9,339.0 L561.5,337.1 L562.2,335.2 L562.8,333.3 L563.4,331.5 L564.0,329.6 L564.6,327.7 L565.3,325.8 L565.9,324.0 L566.5,322.1 L567.1,320.2 L567.8,318.3 L568.4,316.5 L569.1,314.6 L569.7,312.7 L570.4,310.8 L571.0,309.0 L571.7,307.1 L572.4,305.2 L573.1,303.4 L573.8,301.5 L574.5,299.7 L575.2,297.8 L575.9,296.0 L576.6,294.2 L577.4,292.3 L578.1,290.5 L578.9,288.7 L579.6,286.8 L580.4,285.0 L581.2,283.2 L582.0,281.4 L582.8,279.6 L583.6,277.8 L584.5,276.0 L585.3,274.2 L586.2,272.4 L587.0,270.6 L587.9,268.9 L588.8,267.1 L589.7,265.4 L590.6,263.6 L591.5,261.9 L592.4,260.1 L593.4,258.4 L594.3,256.7 L595.3,255.0 L596.3,253.2 L597.3,251.5 L598.3,249.9 L599.3,248.2 L600.3,246.5 L601.3,244.8 L602.4,243.2 L603.5,241.5 L604.6,239.9 L605.7,238.3 L606.8,236.6 L607.9,235.0 L609.0,233.4 L610.2,231.8 L611.3,230.2 L612.5,228.7 L613.7,227.1 L614.9,225.6 L616.2,224.0 L617.4,222.5 L618.6,221.0 L619.9,219.4 L621.2,217.9 L622.5,216.5 L623.8,215.0 L625.1,213.5 L626.4,212.1 L627.7,210.6 L629.1,209.2 L630.4,207.7 L631.8,206.3 L633.2,204.9 L634.6,203.5 L636.0,202.2 L637.4,200.8 L638.8,199.4 L640.2,198.1 L641.7,196.8 L643.1,195.4 L644.6,194.1 L646.0,192.8 L647.5,191.5 L649.0,190.3 L650.5,189.0 L652.0,187.8 L653.5,186.5 L655.0,185.3 L656.6,184.1 L658.1,182.9 L659.7,181.7 L661.2,180.5 L662.8,179.4 L664.3,178.2 L665.9,177.1 L667.5,175.9 L669.1,174.8 L670.7,173.7 L672.3,172.6 L673.9,171.5 L675.5,170.5 L677.2,169.4 L678.8,168.4 L680.4,167.3 L682.1,166.3 L683.8,165.3 L685.4,164.3 L687.1,163.3 L688.8,162.3 L690.5,161.3 L692.1,160.4 L693.8,159.4 L695.5,158.5 L697.3,157.6 L699.0,156.6 L700.7,155.7 L702.4,154.8 L704.2,153.9 L705.9,153.1 L707.6,152.2 L709.4,151.4 L711.2,150.5 L712.9,149.7 L714.7,148.9 L716.5,148.0 L718.3,147.2 L720.0,146.5 L721.8,145.7 L723.6,144.9 L725.4,144.1 L727.2,143.4 L729.1,142.6 L730.9,141.9 L732.7,141.2 L734.5,140.5 L736.4,139.8 L738.2,139.1 L740.0,138.4 L741.9,137.7 L743.7,137.0 L745.6,136.4 L747.5,135.7 L749.3,135.1 L751.2,134.5 L753.1,133.9 L754.9,133.2 L756.8,132.6 L758.7,132.1 L760.6,131.5 L762.5,130.9 L764.4,130.3 L766.3,129.8 L768.2,129.2 L770.1,128.7 L772.0,128.1 L773.9,127.6 L775.8,127.1 L777.8,126.6 L779.7,126.1 L781.6,125.6 L783.5,125.1 L785.5,124.7 L787.4,124.2 L789.4,123.7 L791.3,123.3 L793.2,122.9 L795.2,122.4 L797.1,122.0 L799.1,121.6 L801.0,121.2 L803.0,120.8 L805.0,120.4 L806.9,120.0 L808.9,119.6 L810.8,119.3 L812.8,118.9 L814.8,118.5 L816.7,118.2 L818.7,117.8 L820.7,117.5 L822.7,117.2 L824.6,116.9 L826.6,116.6 L828.6,116.2 L830.6,116.0 L832.6,115.7 L834.5,115.4 L836.5,115.1 L838.5,114.8 L840.5,114.6 L842.5,114.3 L844.5,114.1 L846.5,113.8 L848.5,113.6 L850.4,113.4 L852.4,113.1 L854.4,112.9 L856.4,112.7 L858.4,112.5 L860.4,112.3 L862.4,112.1 L864.4,111.9 L866.4,111.7 L868.4,111.6 L870.4,111.4 L872.3,111.2 L874.3,111.1 L876.3,110.9 L878.3,110.8 L880.3,110.6 L882.3,110.5 L884.3,110.4 L886.3,110.3 L888.3,110.1 L890.2,110.0 L892.2,109.9 L894.2,109.8 L896.2,109.7 L898.2,109.6 L900.2,109.6 L902.1,109.5 L904.1,109.4 L906.1,109.3 L908.1,109.3 L910.0,109.2 L912.0,109.1 L914.0,109.1 L915.9,109.1 L917.9,109.0 L919.9,109.0 L921.8,108.9 L923.8,108.9 L925.7,108.9 L927.7,108.9 L929.7,108.9 L931.6,108.9 L933.6,108.9 L935.5,108.8 L937.4,108.9 L939.4,108.9 L941.3,108.9 L943.3,108.9 L945.2,108.9 L947.1,108.9 L949.0,109.0 L951.0,109.0 L952.9,109.0 L954.8,109.1 L956.7,109.1 L958.6,109.2 L960.5,109.2 L962.4,109.3 L964.3,109.3 L966.2,109.4 L968.1,109.4 L970.0,109.5" stroke="#7f00ff" stroke-dasharray="14.4 8.5 1.8 8.5" stroke-dashoffset="0"/>
</g>
<path d="M310.1,16.5 v3.0 M310.1,523.0 v-3.0 M530.3,16.5 v3.0 M530.3,523.0 v-3.0 M750.5,16.5 v3.0 M750.5,523.0 v-3.0 M90.9,92.5 h3.0 M969.7,92.5 h-3.0 M90.9,169.6 h3.0 M969.7,169.6 h-3.0 M90.9,246.6 h3.0 M969.7,246.6 h-3.0 M90.9,323.7 h3.0 M969.7,323.7 h-3.0 M90.9,400.8 h3.0 M969.7,400.8 h-3.0 M90.9,477.8 h3.0 M969.7,477.8 h-3.0" stroke="#000" stroke-width="2.7" stroke-linecap="round" fill="none"/>
<rect x="89.9" y="15.5" width="880.8000000000001" height="508.5" fill="none" stroke="#000" stroke-width="3"/>
<text transform="translate(84.9,25.2) scale(0.895,1)" font-size="32.4" text-anchor="end">0</text>
<text transform="translate(84.9,102.1) scale(0.895,1)" font-size="32.4" text-anchor="end">-5</text>
<text transform="translate(84.9,179.0) scale(0.895,1)" font-size="32.4" text-anchor="end">-10</text>
<text transform="translate(84.9,255.8) scale(0.895,1)" font-size="32.4" text-anchor="end">-15</text>
<text transform="translate(84.9,332.7) scale(0.895,1)" font-size="32.4" text-anchor="end">-20</text>
<text transform="translate(84.9,409.6) scale(0.895,1)" font-size="32.4" text-anchor="end">-25</text>
<text transform="translate(84.9,486.5) scale(0.895,1)" font-size="32.4" text-anchor="end">-30</text>
<text transform="translate(89.7,552.0) scale(0.895,1)" font-size="32.4" text-anchor="middle">0.5</text>
<text transform="translate(309.9,552.0) scale(0.895,1)" font-size="32.4" text-anchor="middle">1.0</text>
<text transform="translate(530.1,552.0) scale(0.895,1)" font-size="32.4" text-anchor="middle">1.5</text>
<text transform="translate(750.3,552.0) scale(0.895,1)" font-size="32.4" text-anchor="middle">2.0</text>
<text transform="translate(970.5,552.0) scale(0.895,1)" font-size="32.4" text-anchor="middle">2.5</text>
<text transform="translate(530.3,589.3) scale(0.955,1)" font-size="35.4" text-anchor="middle">Freq (GHz)</text>
<text transform="translate(517.2,640.6) scale(0.946,1)" font-size="39.2" text-anchor="middle">(a)</text>
<text transform="translate(29.6,330.6) rotate(-90) scale(0.945,1)" font-size="35.2">S<tspan dy="11.8" font-size="21">11</tspan><tspan dy="-11.8" dx="3.4" font-size="35.2"> [dB]</tspan></text>
<path d="M183.6,267.3 H305.8" stroke="#d01212" stroke-width="1.8" fill="none"/>
<text transform="translate(168.4,248.8) scale(1.012,1)" font-size="34.4">T<tspan dy="8" font-size="21.3">x</tspan><tspan dy="-8" font-size="34.4"> antenna</tspan></text>
<text transform="translate(168.0,435.0) scale(1.012,1)" font-size="34.4">R<tspan dy="8" font-size="21.3">x</tspan><tspan dy="-8" font-size="34.4"> antenna</tspan></text>
<text transform="translate(250.0,332.0) scale(1.012,1)" font-size="34.4">D<tspan dy="9" font-size="21.3">s</tspan></text>
<path d="M244.4,283 V366" stroke="#000" stroke-width="2.2" stroke-dasharray="4.6 2.3" fill="none"/>
<path d="M244.4,274.6 Q241.5,283 237.2,288.6 L244.4,283.6 L251.6,288.6 Q247.3,283 244.4,274.6 z M244.4,373.4 Q241.5,365 237.2,359.4 L244.4,364.4 L251.6,359.4 Q247.3,365 244.4,373.4 z" fill="#000"/>
<path d="M236.7,377 H253.2" stroke="#5a5a20" stroke-width="1.8" fill="none"/>
<path d="M224.7,410.5 L238.5,389.5" stroke="#000" stroke-width="1.9" stroke-dasharray="4.6 2.3" fill="none"/>
<g transform="translate(243.2,382) rotate(33.5)"><path d="M0,0 Q-2.9,8.4 -7.2,14 L0,9 L7.2,14 Q2.9,8.4 0,0 z" fill="#000"/></g>
<path d="M705.8,323.0 H781.8" stroke="#0a8282" stroke-width="4" stroke-linecap="round" stroke-dasharray="20 23.2" fill="none"/>
<text transform="translate(790.6,333.8) scale(0.945,1)" font-size="36.0">S<tspan dy="12.2" font-size="21.2">11</tspan><tspan dy="-12.2" font-size="36.0"> at D</tspan><tspan dy="12.2" font-size="21.2">s</tspan><tspan dy="-12.2" font-size="36.0">=35</tspan></text>
<path d="M705.8,379.5 H781.8" stroke="#ff00ff" stroke-width="4" stroke-linecap="round" stroke-dasharray="17.5 12.5 3.5 13.5 3.5 13.5" fill="none"/>
<text transform="translate(790.6,390.6) scale(0.945,1)" font-size="36.0">S<tspan dy="12.2" font-size="21.2">11</tspan><tspan dy="-12.2" font-size="36.0"> at D</tspan><tspan dy="12.2" font-size="21.2">s</tspan><tspan dy="-12.2" font-size="36.0">=40</tspan></text>
<path d="M705.8,436.0 H781.8" stroke="#c0201e" stroke-width="4" stroke-linecap="round" stroke-dasharray="2.4 5.5" fill="none"/>
<text transform="translate(790.6,447.4) scale(0.945,1)" font-size="36.0">S<tspan dy="12.2" font-size="21.2">11</tspan><tspan dy="-12.2" font-size="36.0"> at D</tspan><tspan dy="12.2" font-size="21.2">s</tspan><tspan dy="-12.2" font-size="36.0">=45</tspan></text>
<path d="M705.8,492.5 H781.8" stroke="#7f00ff" stroke-width="4" stroke-linecap="round" stroke-dasharray="14.4 8.5 1.8 8.5" fill="none"/>
<text transform="translate(790.6,504.2) scale(0.945,1)" font-size="36.0">S<tspan dy="12.2" font-size="21.2">11</tspan><tspan dy="-12.2" font-size="36.0"> at D</tspan><tspan dy="12.2" font-size="21.2">s</tspan><tspan dy="-12.2" font-size="36.0">=50</tspan></text>
<path d="M1322.6,15.5 V524.0 M1541.3,15.5 V524.0 M1760.0,15.5 V524.0 M1103.9,113.3 H1978.8 M1103.9,211.1 H1978.8 M1103.9,308.9 H1978.8 M1103.9,406.7 H1978.8 M1103.9,504.5 H1978.8" stroke="#f5dcc5" stroke-width="1.4" stroke-dasharray="2.4 5.6" fill="none"/>
<clipPath id="cR"><rect x="1103.9" y="15.5" width="874.8999999999999" height="508.5"/></clipPath>
<g clip-path="url(#cR)" fill="none" stroke-width="4.3" stroke-linecap="round" stroke-linejoin="round">
<path d="M1105.0,396.3 L1106.5,395.8 L1107.9,395.3 L1109.4,394.8 L1110.8,394.3 L1112.3,393.8 L1113.7,393.2 L1115.2,392.7 L1116.7,392.2 L1118.1,391.7 L1119.6,391.2 L1121.0,390.7 L1122.5,390.2 L1124.0,389.7 L1125.4,389.2 L1126.9,388.7 L1128.4,388.2 L1129.8,387.6 L1131.3,387.1 L1132.7,386.6 L1134.2,386.1 L1135.7,385.6 L1137.1,385.1 L1138.6,384.6 L1140.1,384.1 L1141.5,383.6 L1143.0,383.1 L1144.5,382.6 L1145.9,382.1 L1147.4,381.5 L1148.9,381.0 L1150.3,380.5 L1151.8,380.0 L1153.3,379.5 L1154.7,379.0 L1156.2,378.5 L1157.7,378.0 L1159.1,377.5 L1160.6,376.9 L1162.1,376.4 L1163.5,375.9 L1165.0,375.4 L1166.5,374.9 L1167.9,374.4 L1169.4,373.9 L1170.9,373.3 L1172.4,372.8 L1173.8,372.3 L1175.3,371.8 L1176.8,371.3 L1178.2,370.8 L1179.7,370.2 L1181.2,369.7 L1182.6,369.2 L1184.1,368.7 L1185.6,368.1 L1187.0,367.6 L1188.5,367.1 L1190.0,366.6 L1191.4,366.1 L1192.9,365.5 L1194.4,365.0 L1195.8,364.5 L1197.3,363.9 L1198.8,363.4 L1200.2,362.9 L1201.7,362.4 L1203.2,361.8 L1204.6,361.3 L1206.1,360.8 L1207.6,360.2 L1209.0,359.7 L1210.5,359.1 L1212.0,358.6 L1213.4,358.1 L1214.9,357.5 L1216.4,357.0 L1217.8,356.4 L1219.3,355.9 L1220.7,355.4 L1222.2,354.8 L1223.7,354.3 L1225.1,353.7 L1226.6,353.2 L1228.0,352.6 L1229.5,352.1 L1231.0,351.5 L1232.4,351.0 L1233.9,350.4 L1235.3,349.8 L1236.8,349.3 L1238.2,348.7 L1239.7,348.2 L1241.2,347.6 L1242.6,347.0 L1244.1,346.5 L1245.5,345.9 L1247.0,345.3 L1248.4,344.8 L1249.9,344.2 L1251.3,343.6 L1252.8,343.1 L1254.2,342.5 L1255.7,341.9 L1257.1,341.3 L1258.6,340.7 L1260.0,340.2 L1261.4,339.6 L1262.9,339.0 L1264.3,338.4 L1265.8,337.8 L1267.2,337.2 L1268.7,336.6 L1270.1,336.0 L1271.5,335.4 L1273.0,334.9 L1274.4,334.3 L1275.9,333.6 L1277.3,333.0 L1278.7,332.4 L1280.2,331.8 L1281.6,331.2 L1283.0,330.6 L1284.5,330.0 L1285.9,329.4 L1287.3,328.8 L1288.7,328.2 L1290.2,327.5 L1291.6,326.9 L1293.0,326.3 L1294.4,325.7 L1295.9,325.0 L1297.3,324.4 L1298.7,323.8 L1300.1,323.1 L1301.5,322.5 L1303.0,321.9 L1304.4,321.2 L1305.8,320.6 L1307.2,319.9 L1308.6,319.3 L1310.0,318.6 L1311.4,318.0 L1312.9,317.3 L1314.3,316.7 L1315.7,316.0 L1317.1,315.3 L1318.5,314.7 L1319.9,314.0 L1321.3,313.3 L1322.7,312.7 L1324.1,312.0 L1325.5,311.3 L1326.9,310.6 L1328.3,310.0 L1329.7,309.3 L1331.1,308.6 L1332.4,307.9 L1333.8,307.2 L1335.2,306.5 L1336.6,305.8 L1338.0,305.1 L1339.4,304.4 L1340.8,303.7 L1342.1,303.0 L1343.5,302.3 L1344.9,301.6 L1346.3,300.9 L1347.6,300.2 L1349.0,299.4 L1350.4,298.7 L1351.8,298.0 L1353.1,297.3 L1354.5,296.5 L1355.9,295.8 L1357.2,295.0 L1358.6,294.3 L1359.9,293.6 L1361.3,292.8 L1362.7,292.1 L1364.0,291.3 L1365.4,290.6 L1366.7,289.8 L1368.1,289.0 L1369.4,288.3 L1370.8,287.5 L1372.1,286.7 L1373.5,286.0 L1374.8,285.2 L1376.1,284.4 L1377.5,283.6 L1378.8,282.8 L1380.1,282.0 L1381.5,281.3 L1382.8,280.5 L1384.1,279.7 L1385.5,278.9 L1386.8,278.1 L1388.1,277.2 L1389.4,276.4 L1390.8,275.6 L1392.1,274.8 L1393.4,274.0 L1394.7,273.2 L1396.0,272.4 L1397.3,271.5 L1398.7,270.7 L1400.0,269.9 L1401.3,269.1 L1402.6,268.2 L1403.9,267.4 L1405.2,266.6 L1406.5,265.7 L1407.9,264.9 L1409.2,264.1 L1410.5,263.3 L1411.8,262.4 L1413.1,261.6 L1414.4,260.8 L1415.7,259.9 L1417.0,259.1 L1418.4,258.3 L1419.7,257.4 L1421.0,256.6 L1422.3,255.8 L1423.6,255.0 L1425.0,254.1 L1426.3,253.3 L1427.6,252.5 L1428.9,251.7 L1430.3,250.9 L1431.6,250.1 L1432.9,249.2 L1434.3,248.4 L1435.6,247.6 L1436.9,246.8 L1438.3,246.0 L1439.6,245.2 L1440.9,244.4 L1442.3,243.6 L1443.6,242.8 L1445.0,242.1 L1446.3,241.3 L1447.7,240.5 L1449.1,239.7 L1450.4,238.9 L1451.8,238.2 L1453.2,237.4 L1454.5,236.7 L1455.9,235.9 L1457.3,235.2 L1458.7,234.4 L1460.1,233.7 L1461.4,233.0 L1462.8,232.2 L1464.2,231.5 L1465.6,230.8 L1467.0,230.1 L1468.5,229.4 L1469.9,228.7 L1471.3,228.0 L1472.7,227.3 L1474.1,226.7 L1475.6,226.0 L1477.0,225.4 L1478.4,224.7 L1479.9,224.1 L1481.3,223.5 L1482.8,222.9 L1484.2,222.4 L1485.7,221.8 L1487.1,221.3 L1488.6,220.8 L1490.1,220.3 L1491.5,219.8 L1493.0,219.3 L1494.5,218.9 L1496.0,218.5 L1497.5,218.1 L1498.9,217.7 L1500.4,217.4 L1501.9,217.1 L1503.4,216.8 L1504.9,216.5 L1506.4,216.2 L1507.9,216.0 L1509.4,215.8 L1511.0,215.7 L1512.5,215.5 L1514.0,215.4 L1515.5,215.3 L1517.0,215.3 L1518.5,215.2 L1520.0,215.2 L1521.5,215.2 L1523.0,215.3 L1524.5,215.3 L1526.0,215.4 L1527.5,215.6 L1529.0,215.7 L1530.6,215.9 L1532.1,216.1 L1533.6,216.3 L1535.1,216.5 L1536.6,216.8 L1538.0,217.1 L1539.5,217.4 L1541.0,217.7 L1542.5,218.0 L1544.0,218.4 L1545.5,218.7 L1547.0,219.1 L1548.5,219.5 L1550.0,220.0 L1551.5,220.4 L1553.0,220.9 L1554.4,221.3 L1555.9,221.8 L1557.4,222.3 L1558.9,222.8 L1560.4,223.3 L1561.9,223.9 L1563.3,224.4 L1564.8,225.0 L1566.3,225.5 L1567.8,226.1 L1569.2,226.7 L1570.7,227.3 L1572.2,227.9 L1573.6,228.5 L1575.1,229.1 L1576.6,229.7 L1578.0,230.3 L1579.5,230.9 L1581.0,231.6 L1582.4,232.2 L1583.9,232.8 L1585.4,233.5 L1586.8,234.1 L1588.3,234.7 L1589.7,235.4 L1591.2,236.0 L1592.6,236.7 L1594.1,237.3 L1595.5,237.9 L1597.0,238.6 L1598.4,239.2 L1599.9,239.8 L1601.3,240.5 L1602.8,241.1 L1604.2,241.7 L1605.6,242.4 L1607.1,243.0 L1608.5,243.6 L1610.0,244.2 L1611.4,244.9 L1612.8,245.5 L1614.3,246.1 L1615.7,246.7 L1617.1,247.4 L1618.6,248.0 L1620.0,248.6 L1621.4,249.2 L1622.9,249.8 L1624.3,250.4 L1625.7,251.1 L1627.2,251.7 L1628.6,252.3 L1630.0,252.9 L1631.5,253.5 L1632.9,254.1 L1634.3,254.7 L1635.8,255.3 L1637.2,255.9 L1638.6,256.5 L1640.1,257.1 L1641.5,257.7 L1642.9,258.2 L1644.4,258.8 L1645.8,259.4 L1647.2,260.0 L1648.7,260.6 L1650.1,261.1 L1651.5,261.7 L1653.0,262.3 L1654.4,262.8 L1655.8,263.4 L1657.3,264.0 L1658.7,264.5 L1660.1,265.1 L1661.6,265.6 L1663.0,266.2 L1664.4,266.7 L1665.9,267.3 L1667.3,267.8 L1668.8,268.4 L1670.2,268.9 L1671.7,269.4 L1673.1,270.0 L1674.5,270.5 L1676.0,271.0 L1677.4,271.5 L1678.9,272.1 L1680.3,272.6 L1681.8,273.1 L1683.2,273.6 L1684.7,274.1 L1686.2,274.6 L1687.6,275.1 L1689.1,275.6 L1690.5,276.1 L1692.0,276.5 L1693.5,277.0 L1694.9,277.5 L1696.4,278.0 L1697.9,278.4 L1699.3,278.9 L1700.8,279.4 L1702.3,279.8 L1703.7,280.3 L1705.2,280.7 L1706.7,281.2 L1708.2,281.6 L1709.6,282.1 L1711.1,282.5 L1712.6,283.0 L1714.1,283.4 L1715.6,283.8 L1717.1,284.3 L1718.5,284.7 L1720.0,285.1 L1721.5,285.5 L1723.0,285.9 L1724.5,286.3 L1726.0,286.7 L1727.5,287.1 L1729.0,287.6 L1730.5,288.0 L1732.0,288.3 L1733.5,288.7 L1735.0,289.1 L1736.5,289.5 L1738.0,289.9 L1739.5,290.3 L1741.0,290.7 L1742.5,291.0 L1744.0,291.4 L1745.5,291.8 L1747.0,292.1 L1748.5,292.5 L1750.0,292.9 L1751.5,293.2 L1753.0,293.6 L1754.6,293.9 L1756.1,294.3 L1757.6,294.6 L1759.1,295.0 L1760.6,295.3 L1762.1,295.7 L1763.7,296.0 L1765.2,296.3 L1766.7,296.7 L1768.2,297.0 L1769.7,297.3 L1771.3,297.7 L1772.8,298.0 L1774.3,298.3 L1775.8,298.6 L1777.4,298.9 L1778.9,299.3 L1780.4,299.6 L1781.9,299.9 L1783.5,300.2 L1785.0,300.5 L1786.5,300.8 L1788.1,301.1 L1789.6,301.4 L1791.1,301.7 L1792.6,302.0 L1794.2,302.3 L1795.7,302.6 L1797.2,302.9 L1798.8,303.2 L1800.3,303.4 L1801.9,303.7 L1803.4,304.0 L1804.9,304.3 L1806.5,304.6 L1808.0,304.8 L1809.5,305.1 L1811.1,305.4 L1812.6,305.7 L1814.2,305.9 L1815.7,306.2 L1817.2,306.5 L1818.8,306.7 L1820.3,307.0 L1821.9,307.2 L1823.4,307.5 L1825.0,307.8 L1826.5,308.0 L1828.0,308.3 L1829.6,308.5 L1831.1,308.8 L1832.7,309.0 L1834.2,309.3 L1835.8,309.5 L1837.3,309.8 L1838.9,310.0 L1840.4,310.2 L1841.9,310.5 L1843.5,310.7 L1845.0,311.0 L1846.6,311.2 L1848.1,311.4 L1849.7,311.7 L1851.2,311.9 L1852.8,312.1 L1854.3,312.4 L1855.9,312.6 L1857.4,312.8 L1859.0,313.1 L1860.5,313.3 L1862.1,313.5 L1863.6,313.7 L1865.2,314.0 L1866.7,314.2 L1868.3,314.4 L1869.8,314.6 L1871.4,314.8 L1872.9,315.1 L1874.5,315.3 L1876.0,315.5 L1877.5,315.7 L1879.1,315.9 L1880.6,316.2 L1882.2,316.4 L1883.7,316.6 L1885.3,316.8 L1886.8,317.0 L1888.4,317.2 L1889.9,317.4 L1891.5,317.6 L1893.0,317.8 L1894.6,318.1 L1896.1,318.3 L1897.7,318.5 L1899.2,318.7 L1900.8,318.9 L1902.3,319.1 L1903.9,319.3 L1905.4,319.5 L1906.9,319.7 L1908.5,319.9 L1910.0,320.1 L1911.6,320.3 L1913.1,320.5 L1914.7,320.7 L1916.2,320.9 L1917.7,321.2 L1919.3,321.4 L1920.8,321.6 L1922.4,321.8 L1923.9,322.0 L1925.5,322.2 L1927.0,322.4 L1928.5,322.6 L1930.1,322.8 L1931.6,323.0 L1933.1,323.2 L1934.7,323.4 L1936.2,323.6 L1937.8,323.8 L1939.3,324.0 L1940.8,324.2 L1942.4,324.4 L1943.9,324.6 L1945.4,324.8 L1947.0,325.0 L1948.5,325.2 L1950.0,325.4 L1951.6,325.6 L1953.1,325.8 L1954.6,326.0 L1956.2,326.2 L1957.7,326.5 L1959.2,326.7 L1960.7,326.9 L1962.3,327.1 L1963.8,327.3 L1965.3,327.5 L1966.8,327.7 L1968.4,327.9 L1969.9,328.1 L1971.4,328.3 L1972.9,328.5 L1974.4,328.8 L1976.0,329.0 L1977.5,329.2 L1979.0,329.4" stroke="#0a8282" stroke-dasharray="20 23.2" stroke-dashoffset="16"/>
<path d="M1105.0,396.3 L1106.5,395.8 L1107.9,395.3 L1109.4,394.8 L1110.9,394.3 L1112.3,393.8 L1113.8,393.3 L1115.3,392.8 L1116.7,392.3 L1118.2,391.8 L1119.7,391.3 L1121.1,390.8 L1122.6,390.3 L1124.1,389.7 L1125.6,389.2 L1127.0,388.7 L1128.5,388.2 L1130.0,387.7 L1131.4,387.2 L1132.9,386.7 L1134.4,386.2 L1135.9,385.7 L1137.3,385.2 L1138.8,384.7 L1140.3,384.2 L1141.8,383.7 L1143.2,383.2 L1144.7,382.6 L1146.2,382.1 L1147.7,381.6 L1149.1,381.1 L1150.6,380.6 L1152.1,380.1 L1153.6,379.6 L1155.0,379.1 L1156.5,378.5 L1158.0,378.0 L1159.5,377.5 L1160.9,377.0 L1162.4,376.5 L1163.9,376.0 L1165.4,375.4 L1166.9,374.9 L1168.3,374.4 L1169.8,373.9 L1171.3,373.4 L1172.8,372.8 L1174.2,372.3 L1175.7,371.8 L1177.2,371.3 L1178.7,370.8 L1180.1,370.2 L1181.6,369.7 L1183.1,369.2 L1184.6,368.6 L1186.0,368.1 L1187.5,367.6 L1189.0,367.1 L1190.5,366.5 L1191.9,366.0 L1193.4,365.5 L1194.9,364.9 L1196.4,364.4 L1197.8,363.9 L1199.3,363.3 L1200.8,362.8 L1202.3,362.2 L1203.7,361.7 L1205.2,361.2 L1206.7,360.6 L1208.2,360.1 L1209.6,359.5 L1211.1,359.0 L1212.6,358.4 L1214.0,357.9 L1215.5,357.4 L1217.0,356.8 L1218.5,356.3 L1219.9,355.7 L1221.4,355.1 L1222.9,354.6 L1224.3,354.0 L1225.8,353.5 L1227.3,352.9 L1228.7,352.4 L1230.2,351.8 L1231.7,351.2 L1233.1,350.7 L1234.6,350.1 L1236.1,349.5 L1237.5,349.0 L1239.0,348.4 L1240.4,347.8 L1241.9,347.3 L1243.4,346.7 L1244.8,346.1 L1246.3,345.5 L1247.8,345.0 L1249.2,344.4 L1250.7,343.8 L1252.1,343.2 L1253.6,342.6 L1255.0,342.1 L1256.5,341.5 L1258.0,340.9 L1259.4,340.3 L1260.9,339.7 L1262.3,339.1 L1263.8,338.5 L1265.2,337.9 L1266.7,337.3 L1268.1,336.7 L1269.6,336.1 L1271.0,335.5 L1272.5,334.9 L1273.9,334.3 L1275.3,333.7 L1276.8,333.1 L1278.2,332.5 L1279.7,331.9 L1281.1,331.2 L1282.6,330.6 L1284.0,330.0 L1285.4,329.4 L1286.9,328.8 L1288.3,328.1 L1289.7,327.5 L1291.2,326.9 L1292.6,326.3 L1294.0,325.6 L1295.5,325.0 L1296.9,324.4 L1298.3,323.7 L1299.8,323.1 L1301.2,322.4 L1302.6,321.8 L1304.0,321.1 L1305.5,320.5 L1306.9,319.9 L1308.3,319.2 L1309.7,318.5 L1311.1,317.9 L1312.6,317.2 L1314.0,316.6 L1315.4,315.9 L1316.8,315.2 L1318.2,314.6 L1319.6,313.9 L1321.0,313.2 L1322.5,312.6 L1323.9,311.9 L1325.3,311.2 L1326.7,310.5 L1328.1,309.8 L1329.5,309.2 L1330.9,308.5 L1332.3,307.8 L1333.7,307.1 L1335.1,306.4 L1336.5,305.7 L1337.9,305.0 L1339.3,304.3 L1340.7,303.6 L1342.0,302.9 L1343.4,302.2 L1344.8,301.5 L1346.2,300.8 L1347.6,300.0 L1349.0,299.3 L1350.4,298.6 L1351.7,297.9 L1353.1,297.1 L1354.5,296.4 L1355.9,295.7 L1357.2,294.9 L1358.6,294.2 L1360.0,293.5 L1361.3,292.7 L1362.7,292.0 L1364.1,291.2 L1365.4,290.5 L1366.8,289.7 L1368.2,289.0 L1369.5,288.2 L1370.9,287.5 L1372.2,286.7 L1373.6,285.9 L1374.9,285.2 L1376.3,284.4 L1377.6,283.6 L1379.0,282.8 L1380.3,282.1 L1381.7,281.3 L1383.0,280.5 L1384.3,279.7 L1385.7,278.9 L1387.0,278.1 L1388.4,277.3 L1389.7,276.5 L1391.0,275.7 L1392.3,274.9 L1393.7,274.1 L1395.0,273.3 L1396.3,272.5 L1397.7,271.7 L1399.0,270.9 L1400.3,270.0 L1401.6,269.2 L1403.0,268.4 L1404.3,267.6 L1405.6,266.8 L1406.9,265.9 L1408.2,265.1 L1409.6,264.3 L1410.9,263.4 L1412.2,262.6 L1413.5,261.8 L1414.8,260.9 L1416.2,260.1 L1417.5,259.3 L1418.8,258.4 L1420.1,257.6 L1421.4,256.8 L1422.8,255.9 L1424.1,255.1 L1425.4,254.3 L1426.7,253.4 L1428.0,252.6 L1429.4,251.7 L1430.7,250.9 L1432.0,250.1 L1433.3,249.2 L1434.7,248.4 L1436.0,247.5 L1437.3,246.7 L1438.7,245.8 L1440.0,245.0 L1441.3,244.2 L1442.7,243.3 L1444.0,242.5 L1445.3,241.6 L1446.7,240.8 L1448.0,240.0 L1449.3,239.1 L1450.7,238.3 L1452.0,237.5 L1453.4,236.6 L1454.7,235.8 L1456.1,235.0 L1457.5,234.1 L1458.8,233.3 L1460.2,232.5 L1461.5,231.6 L1462.9,230.8 L1464.3,230.0 L1465.6,229.2 L1467.0,228.4 L1468.4,227.5 L1469.8,226.7 L1471.1,225.9 L1472.5,225.1 L1473.9,224.3 L1475.3,223.6 L1476.7,222.8 L1478.1,222.0 L1479.5,221.3 L1480.9,220.5 L1482.3,219.8 L1483.7,219.1 L1485.1,218.4 L1486.5,217.7 L1487.9,217.0 L1489.3,216.4 L1490.7,215.8 L1492.2,215.2 L1493.6,214.6 L1495.0,214.0 L1496.4,213.4 L1497.9,212.9 L1499.3,212.4 L1500.7,211.9 L1502.2,211.5 L1503.6,211.1 L1505.0,210.7 L1506.5,210.3 L1507.9,209.9 L1509.4,209.6 L1510.8,209.4 L1512.3,209.1 L1513.7,208.9 L1515.2,208.7 L1516.6,208.6 L1518.1,208.5 L1519.6,208.4 L1521.0,208.3 L1522.5,208.3 L1524.0,208.4 L1525.4,208.5 L1526.9,208.6 L1528.4,208.7 L1529.8,208.9 L1531.3,209.2 L1532.8,209.5 L1534.3,209.8 L1535.8,210.1 L1537.2,210.5 L1538.7,210.9 L1540.2,211.4 L1541.7,211.8 L1543.2,212.3 L1544.7,212.8 L1546.1,213.4 L1547.6,214.0 L1549.1,214.6 L1550.6,215.2 L1552.0,215.8 L1553.5,216.5 L1555.0,217.1 L1556.5,217.8 L1557.9,218.5 L1559.4,219.2 L1560.8,220.0 L1562.3,220.7 L1563.8,221.4 L1565.2,222.2 L1566.6,222.9 L1568.1,223.7 L1569.5,224.4 L1571.0,225.2 L1572.4,225.9 L1573.8,226.7 L1575.2,227.4 L1576.6,228.2 L1578.1,229.0 L1579.5,229.7 L1580.9,230.5 L1582.3,231.2 L1583.7,232.0 L1585.1,232.7 L1586.5,233.5 L1587.9,234.2 L1589.3,234.9 L1590.7,235.7 L1592.1,236.4 L1593.5,237.1 L1594.9,237.8 L1596.4,238.5 L1597.8,239.2 L1599.2,240.0 L1600.6,240.6 L1602.0,241.3 L1603.4,242.0 L1604.8,242.7 L1606.3,243.4 L1607.7,244.1 L1609.1,244.7 L1610.5,245.4 L1611.9,246.1 L1613.4,246.7 L1614.8,247.4 L1616.2,248.0 L1617.6,248.7 L1619.1,249.3 L1620.5,249.9 L1621.9,250.6 L1623.4,251.2 L1624.8,251.8 L1626.2,252.4 L1627.7,253.1 L1629.1,253.7 L1630.5,254.3 L1632.0,254.9 L1633.4,255.5 L1634.9,256.1 L1636.3,256.7 L1637.7,257.2 L1639.2,257.8 L1640.6,258.4 L1642.1,259.0 L1643.5,259.6 L1645.0,260.1 L1646.4,260.7 L1647.9,261.2 L1649.3,261.8 L1650.8,262.4 L1652.2,262.9 L1653.7,263.4 L1655.1,264.0 L1656.6,264.5 L1658.1,265.1 L1659.5,265.6 L1661.0,266.1 L1662.4,266.6 L1663.9,267.2 L1665.4,267.7 L1666.8,268.2 L1668.3,268.7 L1669.8,269.2 L1671.2,269.7 L1672.7,270.2 L1674.2,270.7 L1675.6,271.2 L1677.1,271.7 L1678.6,272.2 L1680.1,272.7 L1681.5,273.2 L1683.0,273.6 L1684.5,274.1 L1686.0,274.6 L1687.4,275.1 L1688.9,275.5 L1690.4,276.0 L1691.9,276.5 L1693.4,276.9 L1694.9,277.4 L1696.3,277.8 L1697.8,278.3 L1699.3,278.7 L1700.8,279.2 L1702.3,279.6 L1703.8,280.1 L1705.3,280.5 L1706.8,280.9 L1708.3,281.4 L1709.8,281.8 L1711.3,282.2 L1712.8,282.6 L1714.3,283.1 L1715.8,283.5 L1717.3,283.9 L1718.8,284.3 L1720.3,284.7 L1721.8,285.1 L1723.3,285.5 L1724.8,285.9 L1726.3,286.3 L1727.8,286.7 L1729.3,287.1 L1730.8,287.5 L1732.3,287.9 L1733.8,288.3 L1735.3,288.7 L1736.9,289.1 L1738.4,289.5 L1739.9,289.8 L1741.4,290.2 L1742.9,290.6 L1744.4,291.0 L1745.9,291.3 L1747.5,291.7 L1749.0,292.1 L1750.5,292.4 L1752.0,292.8 L1753.5,293.1 L1755.1,293.5 L1756.6,293.9 L1758.1,294.2 L1759.6,294.6 L1761.2,294.9 L1762.7,295.3 L1764.2,295.6 L1765.7,295.9 L1767.3,296.3 L1768.8,296.6 L1770.3,296.9 L1771.8,297.3 L1773.4,297.6 L1774.9,297.9 L1776.4,298.3 L1778.0,298.6 L1779.5,298.9 L1781.0,299.2 L1782.6,299.5 L1784.1,299.9 L1785.6,300.2 L1787.2,300.5 L1788.7,300.8 L1790.2,301.1 L1791.8,301.4 L1793.3,301.7 L1794.8,302.0 L1796.4,302.3 L1797.9,302.6 L1799.5,302.9 L1801.0,303.2 L1802.5,303.5 L1804.1,303.8 L1805.6,304.1 L1807.2,304.4 L1808.7,304.7 L1810.2,305.0 L1811.8,305.3 L1813.3,305.5 L1814.9,305.8 L1816.4,306.1 L1818.0,306.4 L1819.5,306.7 L1821.1,306.9 L1822.6,307.2 L1824.1,307.5 L1825.7,307.7 L1827.2,308.0 L1828.8,308.3 L1830.3,308.5 L1831.9,308.8 L1833.4,309.1 L1835.0,309.3 L1836.5,309.6 L1838.1,309.8 L1839.6,310.1 L1841.2,310.4 L1842.7,310.6 L1844.3,310.9 L1845.8,311.1 L1847.4,311.4 L1848.9,311.6 L1850.5,311.9 L1852.0,312.1 L1853.6,312.4 L1855.1,312.6 L1856.7,312.8 L1858.2,313.1 L1859.8,313.3 L1861.3,313.6 L1862.9,313.8 L1864.4,314.0 L1866.0,314.3 L1867.5,314.5 L1869.1,314.7 L1870.6,315.0 L1872.2,315.2 L1873.7,315.4 L1875.3,315.7 L1876.8,315.9 L1878.4,316.1 L1879.9,316.3 L1881.5,316.6 L1883.1,316.8 L1884.6,317.0 L1886.2,317.2 L1887.7,317.5 L1889.3,317.7 L1890.8,317.9 L1892.4,318.1 L1893.9,318.3 L1895.5,318.6 L1897.0,318.8 L1898.6,319.0 L1900.1,319.2 L1901.7,319.4 L1903.2,319.6 L1904.8,319.8 L1906.3,320.0 L1907.9,320.3 L1909.4,320.5 L1911.0,320.7 L1912.5,320.9 L1914.1,321.1 L1915.6,321.3 L1917.2,321.5 L1918.7,321.7 L1920.3,321.9 L1921.8,322.1 L1923.4,322.3 L1924.9,322.5 L1926.5,322.7 L1928.0,322.9 L1929.6,323.1 L1931.1,323.3 L1932.7,323.5 L1934.2,323.7 L1935.8,323.9 L1937.3,324.1 L1938.9,324.3 L1940.4,324.5 L1942.0,324.7 L1943.5,324.9 L1945.1,325.1 L1946.6,325.3 L1948.2,325.5 L1949.7,325.7 L1951.3,325.9 L1952.8,326.1 L1954.3,326.3 L1955.9,326.5 L1957.4,326.7 L1959.0,326.9 L1960.5,327.1 L1962.1,327.3 L1963.6,327.5 L1965.1,327.7 L1966.7,327.9 L1968.2,328.0 L1969.8,328.2 L1971.3,328.4 L1972.8,328.6 L1974.4,328.8 L1975.9,329.0 L1977.5,329.2 L1979.0,329.4" stroke="#ff00ff" stroke-dasharray="17.5 12.5 3.5 13.5 3.5 13.5" stroke-dashoffset="0"/>
<path d="M1105.0,415.3 L1106.5,414.9 L1108.0,414.5 L1109.6,414.1 L1111.1,413.7 L1112.6,413.2 L1114.1,412.8 L1115.7,412.4 L1117.2,412.0 L1118.7,411.6 L1120.2,411.2 L1121.8,410.7 L1123.3,410.3 L1124.8,409.9 L1126.3,409.5 L1127.9,409.1 L1129.4,408.7 L1130.9,408.2 L1132.4,407.8 L1134.0,407.4 L1135.5,407.0 L1137.0,406.6 L1138.5,406.1 L1140.0,405.7 L1141.6,405.3 L1143.1,404.9 L1144.6,404.4 L1146.1,404.0 L1147.7,403.6 L1149.2,403.2 L1150.7,402.7 L1152.2,402.3 L1153.8,401.9 L1155.3,401.4 L1156.8,401.0 L1158.3,400.6 L1159.9,400.1 L1161.4,399.7 L1162.9,399.3 L1164.4,398.8 L1165.9,398.4 L1167.5,398.0 L1169.0,397.5 L1170.5,397.1 L1172.0,396.6 L1173.6,396.2 L1175.1,395.7 L1176.6,395.3 L1178.1,394.9 L1179.6,394.4 L1181.2,394.0 L1182.7,393.5 L1184.2,393.1 L1185.7,392.6 L1187.2,392.2 L1188.8,391.7 L1190.3,391.3 L1191.8,390.8 L1193.3,390.3 L1194.8,389.9 L1196.4,389.4 L1197.9,389.0 L1199.4,388.5 L1200.9,388.0 L1202.4,387.6 L1203.9,387.1 L1205.5,386.6 L1207.0,386.2 L1208.5,385.7 L1210.0,385.2 L1211.5,384.8 L1213.0,384.3 L1214.5,383.8 L1216.0,383.3 L1217.6,382.9 L1219.1,382.4 L1220.6,381.9 L1222.1,381.4 L1223.6,380.9 L1225.1,380.5 L1226.6,380.0 L1228.1,379.5 L1229.6,379.0 L1231.1,378.5 L1232.7,378.0 L1234.2,377.5 L1235.7,377.0 L1237.2,376.5 L1238.7,376.0 L1240.2,375.5 L1241.7,375.0 L1243.2,374.5 L1244.7,374.0 L1246.2,373.5 L1247.7,373.0 L1249.2,372.5 L1250.7,372.0 L1252.2,371.5 L1253.7,370.9 L1255.2,370.4 L1256.7,369.9 L1258.2,369.4 L1259.7,368.9 L1261.2,368.3 L1262.7,367.8 L1264.2,367.3 L1265.7,366.8 L1267.1,366.2 L1268.6,365.7 L1270.1,365.2 L1271.6,364.6 L1273.1,364.1 L1274.6,363.5 L1276.1,363.0 L1277.6,362.4 L1279.1,361.9 L1280.5,361.4 L1282.0,360.8 L1283.5,360.2 L1285.0,359.7 L1286.5,359.1 L1288.0,358.6 L1289.4,358.0 L1290.9,357.4 L1292.4,356.9 L1293.9,356.3 L1295.4,355.7 L1296.8,355.2 L1298.3,354.6 L1299.8,354.0 L1301.3,353.4 L1302.7,352.9 L1304.2,352.3 L1305.7,351.7 L1307.1,351.1 L1308.6,350.5 L1310.1,349.9 L1311.5,349.3 L1313.0,348.7 L1314.5,348.1 L1315.9,347.5 L1317.4,346.9 L1318.9,346.3 L1320.3,345.7 L1321.8,345.1 L1323.2,344.5 L1324.7,343.9 L1326.1,343.2 L1327.6,342.6 L1329.1,342.0 L1330.5,341.4 L1332.0,340.7 L1333.4,340.1 L1334.9,339.5 L1336.3,338.8 L1337.8,338.2 L1339.2,337.5 L1340.6,336.9 L1342.1,336.3 L1343.5,335.6 L1345.0,335.0 L1346.4,334.3 L1347.9,333.6 L1349.3,333.0 L1350.7,332.3 L1352.2,331.7 L1353.6,331.0 L1355.0,330.3 L1356.5,329.6 L1357.9,329.0 L1359.3,328.3 L1360.7,327.6 L1362.2,326.9 L1363.6,326.2 L1365.0,325.5 L1366.4,324.8 L1367.9,324.1 L1369.3,323.4 L1370.7,322.7 L1372.1,322.0 L1373.5,321.3 L1375.0,320.6 L1376.4,319.9 L1377.8,319.2 L1379.2,318.5 L1380.6,317.7 L1382.0,317.0 L1383.4,316.3 L1384.8,315.6 L1386.2,314.8 L1387.6,314.1 L1389.0,313.3 L1390.4,312.6 L1391.8,311.9 L1393.2,311.1 L1394.6,310.4 L1396.0,309.6 L1397.4,308.8 L1398.8,308.1 L1400.2,307.3 L1401.6,306.5 L1402.9,305.8 L1404.3,305.0 L1405.7,304.2 L1407.1,303.4 L1408.5,302.6 L1409.8,301.9 L1411.2,301.1 L1412.6,300.3 L1414.0,299.5 L1415.3,298.7 L1416.7,297.9 L1418.1,297.1 L1419.4,296.3 L1420.8,295.4 L1422.2,294.6 L1423.5,293.8 L1424.9,293.0 L1426.2,292.2 L1427.6,291.3 L1428.9,290.5 L1430.3,289.7 L1431.6,288.9 L1432.9,288.0 L1434.3,287.2 L1435.6,286.3 L1436.9,285.5 L1438.3,284.6 L1439.6,283.8 L1440.9,282.9 L1442.2,282.1 L1443.6,281.2 L1444.9,280.4 L1446.2,279.5 L1447.5,278.7 L1448.8,277.8 L1450.1,276.9 L1451.4,276.1 L1452.7,275.2 L1454.0,274.3 L1455.3,273.4 L1456.6,272.6 L1457.9,271.7 L1459.2,270.8 L1460.4,269.9 L1461.7,269.0 L1463.0,268.2 L1464.3,267.3 L1465.5,266.4 L1466.8,265.5 L1468.0,264.6 L1469.3,263.7 L1470.6,262.8 L1471.8,261.9 L1473.1,261.0 L1474.3,260.1 L1475.6,259.2 L1476.8,258.2 L1478.1,257.3 L1479.3,256.4 L1480.6,255.5 L1481.8,254.6 L1483.1,253.6 L1484.4,252.7 L1485.6,251.8 L1486.9,250.8 L1488.2,249.9 L1489.4,248.9 L1490.7,248.0 L1492.0,247.0 L1493.3,246.0 L1494.6,245.1 L1495.9,244.1 L1497.2,243.1 L1498.5,242.1 L1499.9,241.1 L1501.2,240.1 L1502.5,239.2 L1503.9,238.2 L1505.2,237.2 L1506.6,236.2 L1507.9,235.2 L1509.3,234.3 L1510.7,233.3 L1512.0,232.4 L1513.4,231.4 L1514.8,230.5 L1516.2,229.6 L1517.6,228.7 L1519.0,227.8 L1520.4,226.9 L1521.8,226.1 L1523.2,225.3 L1524.6,224.4 L1526.0,223.6 L1527.5,222.9 L1528.9,222.1 L1530.3,221.4 L1531.8,220.7 L1533.2,220.0 L1534.6,219.4 L1536.1,218.8 L1537.5,218.2 L1539.0,217.6 L1540.4,217.1 L1541.9,216.6 L1543.3,216.2 L1544.8,215.7 L1546.3,215.4 L1547.7,215.0 L1549.2,214.7 L1550.7,214.5 L1552.1,214.2 L1553.6,214.1 L1555.1,213.9 L1556.5,213.8 L1558.0,213.8 L1559.5,213.8 L1561.0,213.9 L1562.5,214.0 L1563.9,214.1 L1565.4,214.3 L1566.9,214.5 L1568.4,214.7 L1569.9,215.0 L1571.3,215.3 L1572.8,215.7 L1574.3,216.1 L1575.8,216.5 L1577.3,216.9 L1578.7,217.4 L1580.2,217.9 L1581.7,218.5 L1583.2,219.0 L1584.6,219.6 L1586.1,220.2 L1587.6,220.9 L1589.0,221.5 L1590.5,222.2 L1592.0,222.9 L1593.4,223.6 L1594.9,224.4 L1596.3,225.1 L1597.8,225.9 L1599.2,226.7 L1600.7,227.5 L1602.1,228.3 L1603.5,229.1 L1605.0,229.9 L1606.4,230.8 L1607.8,231.6 L1609.2,232.4 L1610.6,233.3 L1612.1,234.1 L1613.5,235.0 L1614.9,235.8 L1616.3,236.7 L1617.6,237.6 L1619.0,238.4 L1620.4,239.3 L1621.8,240.1 L1623.1,241.0 L1624.5,241.8 L1625.9,242.6 L1627.2,243.5 L1628.6,244.3 L1629.9,245.2 L1631.3,246.0 L1632.6,246.8 L1634.0,247.6 L1635.3,248.5 L1636.7,249.3 L1638.0,250.1 L1639.3,250.9 L1640.7,251.7 L1642.0,252.5 L1643.3,253.3 L1644.7,254.1 L1646.0,254.9 L1647.4,255.7 L1648.7,256.5 L1650.0,257.3 L1651.4,258.1 L1652.7,258.9 L1654.1,259.6 L1655.4,260.4 L1656.8,261.1 L1658.1,261.9 L1659.5,262.6 L1660.9,263.4 L1662.2,264.1 L1663.6,264.9 L1665.0,265.6 L1666.4,266.3 L1667.7,267.0 L1669.1,267.7 L1670.5,268.4 L1671.9,269.1 L1673.3,269.8 L1674.8,270.5 L1676.2,271.2 L1677.6,271.9 L1679.0,272.6 L1680.5,273.2 L1681.9,273.9 L1683.3,274.6 L1684.8,275.2 L1686.2,275.9 L1687.7,276.6 L1689.1,277.2 L1690.6,277.9 L1692.0,278.6 L1693.5,279.2 L1694.9,279.9 L1696.3,280.6 L1697.8,281.2 L1699.2,281.9 L1700.7,282.6 L1702.1,283.3 L1703.5,283.9 L1705.0,284.6 L1706.4,285.3 L1707.8,286.0 L1709.3,286.7 L1710.7,287.4 L1712.1,288.1 L1713.5,288.8 L1715.0,289.5 L1716.4,290.2 L1717.8,290.9 L1719.2,291.5 L1720.7,292.2 L1722.1,292.9 L1723.5,293.5 L1725.0,294.2 L1726.4,294.8 L1727.9,295.5 L1729.3,296.1 L1730.7,296.7 L1732.2,297.3 L1733.7,297.9 L1735.1,298.5 L1736.6,299.1 L1738.0,299.7 L1739.5,300.2 L1741.0,300.8 L1742.5,301.3 L1743.9,301.8 L1745.4,302.4 L1746.9,302.9 L1748.4,303.4 L1749.9,303.9 L1751.4,304.4 L1752.9,304.9 L1754.4,305.4 L1755.9,305.9 L1757.4,306.3 L1758.9,306.8 L1760.4,307.3 L1761.9,307.7 L1763.4,308.2 L1764.9,308.6 L1766.4,309.1 L1768.0,309.5 L1769.5,309.9 L1771.0,310.4 L1772.5,310.8 L1774.0,311.2 L1775.6,311.6 L1777.1,312.0 L1778.6,312.4 L1780.1,312.9 L1781.7,313.3 L1783.2,313.7 L1784.7,314.1 L1786.3,314.5 L1787.8,314.9 L1789.3,315.3 L1790.9,315.6 L1792.4,316.0 L1794.0,316.4 L1795.5,316.8 L1797.0,317.2 L1798.6,317.6 L1800.1,317.9 L1801.7,318.3 L1803.2,318.7 L1804.7,319.1 L1806.3,319.4 L1807.8,319.8 L1809.4,320.2 L1810.9,320.5 L1812.5,320.9 L1814.0,321.2 L1815.6,321.6 L1817.1,321.9 L1818.7,322.3 L1820.2,322.6 L1821.8,323.0 L1823.3,323.3 L1824.9,323.7 L1826.4,324.0 L1828.0,324.4 L1829.5,324.7 L1831.1,325.1 L1832.6,325.4 L1834.2,325.7 L1835.7,326.1 L1837.3,326.4 L1838.8,326.7 L1840.4,327.1 L1841.9,327.4 L1843.5,327.7 L1845.0,328.0 L1846.6,328.4 L1848.1,328.7 L1849.7,329.0 L1851.2,329.3 L1852.8,329.6 L1854.3,330.0 L1855.9,330.3 L1857.4,330.6 L1859.0,330.9 L1860.5,331.2 L1862.1,331.5 L1863.6,331.8 L1865.2,332.2 L1866.7,332.5 L1868.3,332.8 L1869.8,333.1 L1871.4,333.4 L1872.9,333.7 L1874.5,334.0 L1876.0,334.3 L1877.6,334.6 L1879.2,334.9 L1880.7,335.2 L1882.3,335.5 L1883.8,335.8 L1885.4,336.1 L1886.9,336.4 L1888.5,336.6 L1890.0,336.9 L1891.6,337.2 L1893.1,337.5 L1894.7,337.8 L1896.3,338.1 L1897.8,338.4 L1899.4,338.6 L1900.9,338.9 L1902.5,339.2 L1904.0,339.5 L1905.6,339.8 L1907.1,340.0 L1908.7,340.3 L1910.3,340.6 L1911.8,340.9 L1913.4,341.2 L1914.9,341.4 L1916.5,341.7 L1918.0,342.0 L1919.6,342.2 L1921.2,342.5 L1922.7,342.8 L1924.3,343.1 L1925.8,343.3 L1927.4,343.6 L1929.0,343.9 L1930.5,344.1 L1932.1,344.4 L1933.6,344.6 L1935.2,344.9 L1936.8,345.2 L1938.3,345.4 L1939.9,345.7 L1941.4,346.0 L1943.0,346.2 L1944.6,346.5 L1946.1,346.7 L1947.7,347.0 L1949.3,347.2 L1950.8,347.5 L1952.4,347.8 L1953.9,348.0 L1955.5,348.3 L1957.1,348.5 L1958.6,348.8 L1960.2,349.0 L1961.8,349.3 L1963.3,349.5 L1964.9,349.8 L1966.5,350.0 L1968.0,350.3 L1969.6,350.5 L1971.2,350.8 L1972.7,351.0 L1974.3,351.3 L1975.9,351.5 L1977.4,351.8 L1979.0,352.0" stroke="#c0201e" stroke-dasharray="2.4 5.5" stroke-dashoffset="0"/>
<path d="M1105.0,378.7 L1106.7,378.4 L1108.4,378.2 L1110.1,377.9 L1111.7,377.7 L1113.4,377.4 L1115.1,377.2 L1116.8,376.9 L1118.5,376.6 L1120.1,376.4 L1121.8,376.1 L1123.5,375.8 L1125.2,375.5 L1126.8,375.3 L1128.5,375.0 L1130.2,374.7 L1131.8,374.4 L1133.5,374.1 L1135.2,373.8 L1136.8,373.5 L1138.5,373.3 L1140.1,373.0 L1141.8,372.7 L1143.5,372.4 L1145.1,372.1 L1146.8,371.7 L1148.4,371.4 L1150.1,371.1 L1151.7,370.8 L1153.4,370.5 L1155.0,370.2 L1156.7,369.9 L1158.3,369.5 L1160.0,369.2 L1161.6,368.9 L1163.2,368.6 L1164.9,368.2 L1166.5,367.9 L1168.2,367.6 L1169.8,367.2 L1171.5,366.9 L1173.1,366.5 L1174.7,366.2 L1176.4,365.9 L1178.0,365.5 L1179.6,365.2 L1181.3,364.8 L1182.9,364.4 L1184.5,364.1 L1186.2,363.7 L1187.8,363.4 L1189.4,363.0 L1191.0,362.6 L1192.7,362.3 L1194.3,361.9 L1195.9,361.5 L1197.6,361.1 L1199.2,360.8 L1200.8,360.4 L1202.4,360.0 L1204.1,359.6 L1205.7,359.2 L1207.3,358.8 L1208.9,358.4 L1210.5,358.1 L1212.2,357.7 L1213.8,357.3 L1215.4,356.9 L1217.0,356.5 L1218.6,356.1 L1220.2,355.6 L1221.9,355.2 L1223.5,354.8 L1225.1,354.4 L1226.7,354.0 L1228.3,353.6 L1229.9,353.2 L1231.6,352.7 L1233.2,352.3 L1234.8,351.9 L1236.4,351.4 L1238.0,351.0 L1239.6,350.6 L1241.2,350.1 L1242.9,349.7 L1244.5,349.3 L1246.1,348.8 L1247.7,348.4 L1249.3,347.9 L1250.9,347.5 L1252.5,347.0 L1254.1,346.6 L1255.7,346.1 L1257.4,345.7 L1259.0,345.2 L1260.6,344.7 L1262.2,344.3 L1263.8,343.8 L1265.4,343.3 L1267.0,342.9 L1268.6,342.4 L1270.2,341.9 L1271.9,341.4 L1273.5,341.0 L1275.1,340.5 L1276.7,340.0 L1278.3,339.5 L1279.9,339.0 L1281.5,338.5 L1283.1,338.0 L1284.7,337.6 L1286.3,337.1 L1288.0,336.6 L1289.6,336.1 L1291.2,335.5 L1292.8,335.0 L1294.4,334.5 L1296.0,334.0 L1297.6,333.5 L1299.2,333.0 L1300.9,332.5 L1302.5,332.0 L1304.1,331.4 L1305.7,330.9 L1307.3,330.4 L1308.9,329.9 L1310.6,329.3 L1312.2,328.8 L1313.8,328.3 L1315.4,327.7 L1317.0,327.2 L1318.6,326.6 L1320.2,326.1 L1321.8,325.5 L1323.4,325.0 L1325.1,324.4 L1326.7,323.9 L1328.3,323.3 L1329.9,322.7 L1331.5,322.2 L1333.1,321.6 L1334.7,321.0 L1336.3,320.4 L1337.9,319.8 L1339.5,319.2 L1341.0,318.6 L1342.6,318.0 L1344.2,317.4 L1345.8,316.8 L1347.4,316.2 L1349.0,315.5 L1350.5,314.9 L1352.1,314.3 L1353.7,313.6 L1355.2,313.0 L1356.8,312.3 L1358.4,311.6 L1359.9,311.0 L1361.5,310.3 L1363.0,309.6 L1364.6,308.9 L1366.1,308.2 L1367.6,307.5 L1369.2,306.8 L1370.7,306.1 L1372.2,305.4 L1373.7,304.7 L1375.2,303.9 L1376.7,303.2 L1378.2,302.5 L1379.7,301.7 L1381.2,300.9 L1382.7,300.2 L1384.2,299.4 L1385.7,298.6 L1387.2,297.8 L1388.6,297.0 L1390.1,296.2 L1391.5,295.4 L1393.0,294.5 L1394.4,293.7 L1395.9,292.8 L1397.3,292.0 L1398.7,291.1 L1400.1,290.3 L1401.5,289.4 L1402.9,288.5 L1404.3,287.6 L1405.7,286.7 L1407.1,285.8 L1408.5,284.8 L1409.8,283.9 L1411.2,282.9 L1412.6,282.0 L1413.9,281.0 L1415.3,280.1 L1416.6,279.1 L1418.0,278.1 L1419.3,277.1 L1420.6,276.1 L1421.9,275.1 L1423.2,274.1 L1424.6,273.1 L1425.9,272.1 L1427.2,271.0 L1428.5,270.0 L1429.8,268.9 L1431.0,267.9 L1432.3,266.8 L1433.6,265.8 L1434.9,264.7 L1436.2,263.6 L1437.4,262.5 L1438.7,261.4 L1440.0,260.4 L1441.2,259.3 L1442.5,258.2 L1443.7,257.0 L1445.0,255.9 L1446.2,254.8 L1447.5,253.7 L1448.7,252.6 L1449.9,251.4 L1451.2,250.3 L1452.4,249.2 L1453.6,248.0 L1454.9,246.9 L1456.1,245.7 L1457.3,244.6 L1458.5,243.4 L1459.8,242.3 L1461.0,241.1 L1462.2,239.9 L1463.4,238.8 L1464.6,237.6 L1465.9,236.4 L1467.1,235.2 L1468.3,234.1 L1469.5,232.9 L1470.7,231.7 L1471.9,230.5 L1473.1,229.3 L1474.3,228.1 L1475.5,226.9 L1476.8,225.7 L1478.0,224.6 L1479.2,223.4 L1480.4,222.2 L1481.6,221.0 L1482.8,219.8 L1484.0,218.6 L1485.2,217.4 L1486.4,216.2 L1487.7,215.0 L1488.9,213.8 L1490.1,212.6 L1491.3,211.4 L1492.5,210.2 L1493.7,209.0 L1495.0,207.8 L1496.2,206.6 L1497.4,205.4 L1498.6,204.2 L1499.9,203.0 L1501.1,201.8 L1502.3,200.6 L1503.6,199.5 L1504.8,198.3 L1506.1,197.1 L1507.3,195.9 L1508.5,194.7 L1509.8,193.5 L1511.0,192.4 L1512.3,191.2 L1513.6,190.0 L1514.8,188.9 L1516.1,187.7 L1517.4,186.5 L1518.6,185.4 L1519.9,184.2 L1521.2,183.1 L1522.5,181.9 L1523.8,180.8 L1525.1,179.7 L1526.4,178.6 L1527.7,177.6 L1529.0,176.5 L1530.3,175.6 L1531.7,174.6 L1533.0,173.7 L1534.4,172.9 L1535.7,172.1 L1537.1,171.3 L1538.5,170.6 L1539.9,170.0 L1541.3,169.5 L1542.7,169.0 L1544.2,168.6 L1545.6,168.3 L1547.1,168.1 L1548.5,168.0 L1550.0,167.9 L1551.5,168.0 L1553.0,168.1 L1554.5,168.3 L1556.0,168.5 L1557.5,168.9 L1559.0,169.3 L1560.5,169.9 L1562.0,170.4 L1563.5,171.1 L1565.0,171.8 L1566.5,172.6 L1567.9,173.4 L1569.4,174.3 L1570.9,175.2 L1572.3,176.2 L1573.7,177.3 L1575.1,178.3 L1576.5,179.4 L1577.9,180.6 L1579.3,181.7 L1580.6,182.9 L1581.9,184.2 L1583.2,185.4 L1584.5,186.6 L1585.8,187.9 L1587.0,189.2 L1588.2,190.5 L1589.4,191.8 L1590.6,193.1 L1591.7,194.4 L1592.8,195.7 L1593.9,197.1 L1595.0,198.4 L1596.1,199.7 L1597.2,201.1 L1598.2,202.5 L1599.2,203.8 L1600.3,205.2 L1601.3,206.6 L1602.3,207.9 L1603.3,209.3 L1604.2,210.7 L1605.2,212.1 L1606.2,213.5 L1607.2,214.8 L1608.1,216.2 L1609.1,217.6 L1610.0,219.0 L1611.0,220.4 L1612.0,221.7 L1612.9,223.1 L1613.9,224.5 L1614.8,225.9 L1615.8,227.2 L1616.8,228.6 L1617.8,229.9 L1618.8,231.3 L1619.7,232.6 L1620.8,233.9 L1621.8,235.3 L1622.8,236.6 L1623.8,237.9 L1624.9,239.2 L1625.9,240.4 L1627.0,241.7 L1628.1,243.0 L1629.2,244.3 L1630.3,245.5 L1631.4,246.7 L1632.5,248.0 L1633.7,249.2 L1634.8,250.4 L1636.0,251.6 L1637.2,252.8 L1638.3,254.0 L1639.5,255.2 L1640.7,256.4 L1641.9,257.5 L1643.1,258.7 L1644.3,259.9 L1645.6,261.0 L1646.8,262.1 L1648.1,263.3 L1649.3,264.4 L1650.6,265.5 L1651.8,266.6 L1653.1,267.7 L1654.4,268.8 L1655.7,269.9 L1657.0,270.9 L1658.3,272.0 L1659.6,273.1 L1660.9,274.1 L1662.3,275.2 L1663.6,276.2 L1664.9,277.2 L1666.3,278.3 L1667.6,279.3 L1669.0,280.3 L1670.3,281.3 L1671.7,282.3 L1673.1,283.3 L1674.4,284.3 L1675.8,285.3 L1677.2,286.3 L1678.6,287.2 L1680.0,288.2 L1681.4,289.1 L1682.8,290.1 L1684.2,291.0 L1685.6,292.0 L1687.0,292.9 L1688.4,293.8 L1689.8,294.8 L1691.2,295.7 L1692.6,296.6 L1694.0,297.5 L1695.5,298.4 L1696.9,299.3 L1698.3,300.2 L1699.8,301.0 L1701.2,301.9 L1702.6,302.8 L1704.1,303.7 L1705.5,304.5 L1707.0,305.4 L1708.4,306.2 L1709.9,307.1 L1711.3,307.9 L1712.8,308.7 L1714.2,309.6 L1715.7,310.4 L1717.2,311.2 L1718.6,312.0 L1720.1,312.8 L1721.6,313.6 L1723.0,314.4 L1724.5,315.2 L1726.0,316.0 L1727.5,316.8 L1729.0,317.6 L1730.4,318.4 L1731.9,319.1 L1733.4,319.9 L1734.9,320.7 L1736.4,321.4 L1737.9,322.2 L1739.4,322.9 L1740.9,323.6 L1742.4,324.4 L1743.9,325.1 L1745.4,325.8 L1747.0,326.6 L1748.5,327.3 L1750.0,328.0 L1751.5,328.7 L1753.0,329.4 L1754.5,330.1 L1756.1,330.8 L1757.6,331.5 L1759.1,332.2 L1760.7,332.9 L1762.2,333.5 L1763.7,334.2 L1765.3,334.9 L1766.8,335.6 L1768.3,336.2 L1769.9,336.9 L1771.4,337.5 L1773.0,338.2 L1774.5,338.8 L1776.1,339.5 L1777.6,340.1 L1779.2,340.7 L1780.7,341.4 L1782.3,342.0 L1783.8,342.6 L1785.4,343.2 L1787.0,343.9 L1788.5,344.5 L1790.1,345.1 L1791.6,345.7 L1793.2,346.3 L1794.8,346.9 L1796.4,347.5 L1797.9,348.1 L1799.5,348.7 L1801.1,349.3 L1802.6,349.8 L1804.2,350.4 L1805.8,351.0 L1807.4,351.6 L1809.0,352.1 L1810.6,352.7 L1812.1,353.2 L1813.7,353.8 L1815.3,354.4 L1816.9,354.9 L1818.5,355.5 L1820.1,356.0 L1821.7,356.6 L1823.3,357.1 L1824.9,357.6 L1826.5,358.2 L1828.1,358.7 L1829.7,359.2 L1831.3,359.7 L1832.9,360.3 L1834.5,360.8 L1836.1,361.3 L1837.7,361.8 L1839.3,362.3 L1840.9,362.8 L1842.5,363.3 L1844.1,363.8 L1845.7,364.3 L1847.3,364.8 L1848.9,365.3 L1850.5,365.8 L1852.1,366.3 L1853.8,366.8 L1855.4,367.3 L1857.0,367.8 L1858.6,368.3 L1860.2,368.7 L1861.8,369.2 L1863.5,369.7 L1865.1,370.2 L1866.7,370.6 L1868.3,371.1 L1869.9,371.6 L1871.6,372.0 L1873.2,372.5 L1874.8,373.0 L1876.4,373.4 L1878.0,373.9 L1879.7,374.3 L1881.3,374.8 L1882.9,375.2 L1884.5,375.7 L1886.2,376.1 L1887.8,376.6 L1889.4,377.0 L1891.1,377.5 L1892.7,377.9 L1894.3,378.3 L1895.9,378.8 L1897.6,379.2 L1899.2,379.7 L1900.8,380.1 L1902.5,380.5 L1904.1,380.9 L1905.7,381.4 L1907.3,381.8 L1909.0,382.2 L1910.6,382.7 L1912.2,383.1 L1913.9,383.5 L1915.5,383.9 L1917.1,384.3 L1918.8,384.8 L1920.4,385.2 L1922.0,385.6 L1923.7,386.0 L1925.3,386.4 L1926.9,386.8 L1928.6,387.2 L1930.2,387.7 L1931.8,388.1 L1933.4,388.5 L1935.1,388.9 L1936.7,389.3 L1938.3,389.7 L1940.0,390.1 L1941.6,390.5 L1943.2,390.9 L1944.9,391.3 L1946.5,391.7 L1948.1,392.1 L1949.7,392.5 L1951.4,392.9 L1953.0,393.3 L1954.6,393.7 L1956.3,394.1 L1957.9,394.5 L1959.5,394.9 L1961.1,395.3 L1962.8,395.7 L1964.4,396.1 L1966.0,396.5 L1967.6,396.9 L1969.3,397.3 L1970.9,397.7 L1972.5,398.1 L1974.1,398.5 L1975.8,398.9 L1977.4,399.3 L1979.0,399.7" stroke="#7f00ff" stroke-dasharray="14.4 8.5 1.8 8.5" stroke-dashoffset="0"/>
</g>
<path d="M1322.6,16.5 v3.0 M1322.6,523.0 v-3.0 M1541.3,16.5 v3.0 M1541.3,523.0 v-3.0 M1760.0,16.5 v3.0 M1760.0,523.0 v-3.0 M1104.9,113.3 h3.0 M1977.8,113.3 h-3.0 M1104.9,211.1 h3.0 M1977.8,211.1 h-3.0 M1104.9,308.9 h3.0 M1977.8,308.9 h-3.0 M1104.9,406.7 h3.0 M1977.8,406.7 h-3.0 M1104.9,504.5 h3.0 M1977.8,504.5 h-3.0" stroke="#000" stroke-width="2.7" stroke-linecap="round" fill="none"/>
<rect x="1103.9" y="15.5" width="874.8999999999999" height="508.5" fill="none" stroke="#000" stroke-width="3"/>
<text transform="translate(1098.7,25.2) scale(0.895,1)" font-size="32.4" text-anchor="end">-10</text>
<text transform="translate(1098.7,122.9) scale(0.895,1)" font-size="32.4" text-anchor="end">-20</text>
<text transform="translate(1098.7,220.6) scale(0.895,1)" font-size="32.4" text-anchor="end">-30</text>
<text transform="translate(1098.7,318.3) scale(0.895,1)" font-size="32.4" text-anchor="end">-40</text>
<text transform="translate(1098.7,416.0) scale(0.895,1)" font-size="32.4" text-anchor="end">-50</text>
<text transform="translate(1098.7,513.7) scale(0.895,1)" font-size="32.4" text-anchor="end">-60</text>
<text transform="translate(1103.6,552.0) scale(0.895,1)" font-size="32.4" text-anchor="middle">1.40</text>
<text transform="translate(1322.3,552.0) scale(0.895,1)" font-size="32.4" text-anchor="middle">1.45</text>
<text transform="translate(1541.0,552.0) scale(0.895,1)" font-size="32.4" text-anchor="middle">1.50</text>
<text transform="translate(1759.7,552.0) scale(0.895,1)" font-size="32.4" text-anchor="middle">1.55</text>
<text transform="translate(1978.4,552.0) scale(0.895,1)" font-size="32.4" text-anchor="middle">1.60</text>
<text transform="translate(1541.0,584.0) scale(0.955,1)" font-size="35.4" text-anchor="middle">Freq (GHz)</text>
<text transform="translate(1525.0,639.5) scale(0.946,1)" font-size="39.2" text-anchor="middle">(b)</text>
<text transform="translate(1047.0,331.3) rotate(-90) scale(0.893,1)" font-size="36.8">S<tspan dy="11.8" dx="7" font-size="21.5">21</tspan><tspan dy="-11.8" dx="2" font-size="36.8"> [dB]</tspan></text>
<path d="M1416.4,44.7 H1492.9" stroke="#0a8282" stroke-width="4" stroke-linecap="round" stroke-dasharray="20 23.2" fill="none"/>
<text transform="translate(1502.0,55.8) scale(0.945,1)" font-size="36.0">S<tspan dy="12.2" font-size="21.2">21</tspan><tspan dy="-12.2" font-size="36.0"> at D</tspan><tspan dy="12.2" font-size="21.2">s</tspan><tspan dy="-12.2" font-size="36.0">=35</tspan></text>
<path d="M1416.4,101.5 H1492.9" stroke="#c0201e" stroke-width="4" stroke-linecap="round" stroke-dasharray="2.4 5.5" fill="none"/>
<text transform="translate(1502.0,112.3) scale(0.945,1)" font-size="36.0">S<tspan dy="12.2" font-size="21.2">21</tspan><tspan dy="-12.2" font-size="36.0"> at D</tspan><tspan dy="12.2" font-size="21.2">s</tspan><tspan dy="-12.2" font-size="36.0">=45</tspan></text>
<path d="M1717.3,44.7 H1793.8" stroke="#ff00ff" stroke-width="4" stroke-linecap="round" stroke-dasharray="17.5 12.5 3.5 13.5 3.5 13.5" fill="none"/>
<text transform="translate(1802.9,55.8) scale(0.945,1)" font-size="36.0">S<tspan dy="12.2" font-size="21.2">21</tspan><tspan dy="-12.2" font-size="36.0"> at D</tspan><tspan dy="12.2" font-size="21.2">s</tspan><tspan dy="-12.2" font-size="36.0">=40</tspan></text>
<path d="M1717.3,101.5 H1793.8" stroke="#7f00ff" stroke-width="4" stroke-linecap="round" stroke-dasharray="14.4 8.5 1.8 8.5" fill="none"/>
<text transform="translate(1802.9,112.3) scale(0.945,1)" font-size="36.0">S<tspan dy="12.2" font-size="21.2">21</tspan><tspan dy="-12.2" font-size="36.0"> at D</tspan><tspan dy="12.2" font-size="21.2">s</tspan><tspan dy="-12.2" font-size="36.0">=50</tspan></text>
</svg>
</body></html>
